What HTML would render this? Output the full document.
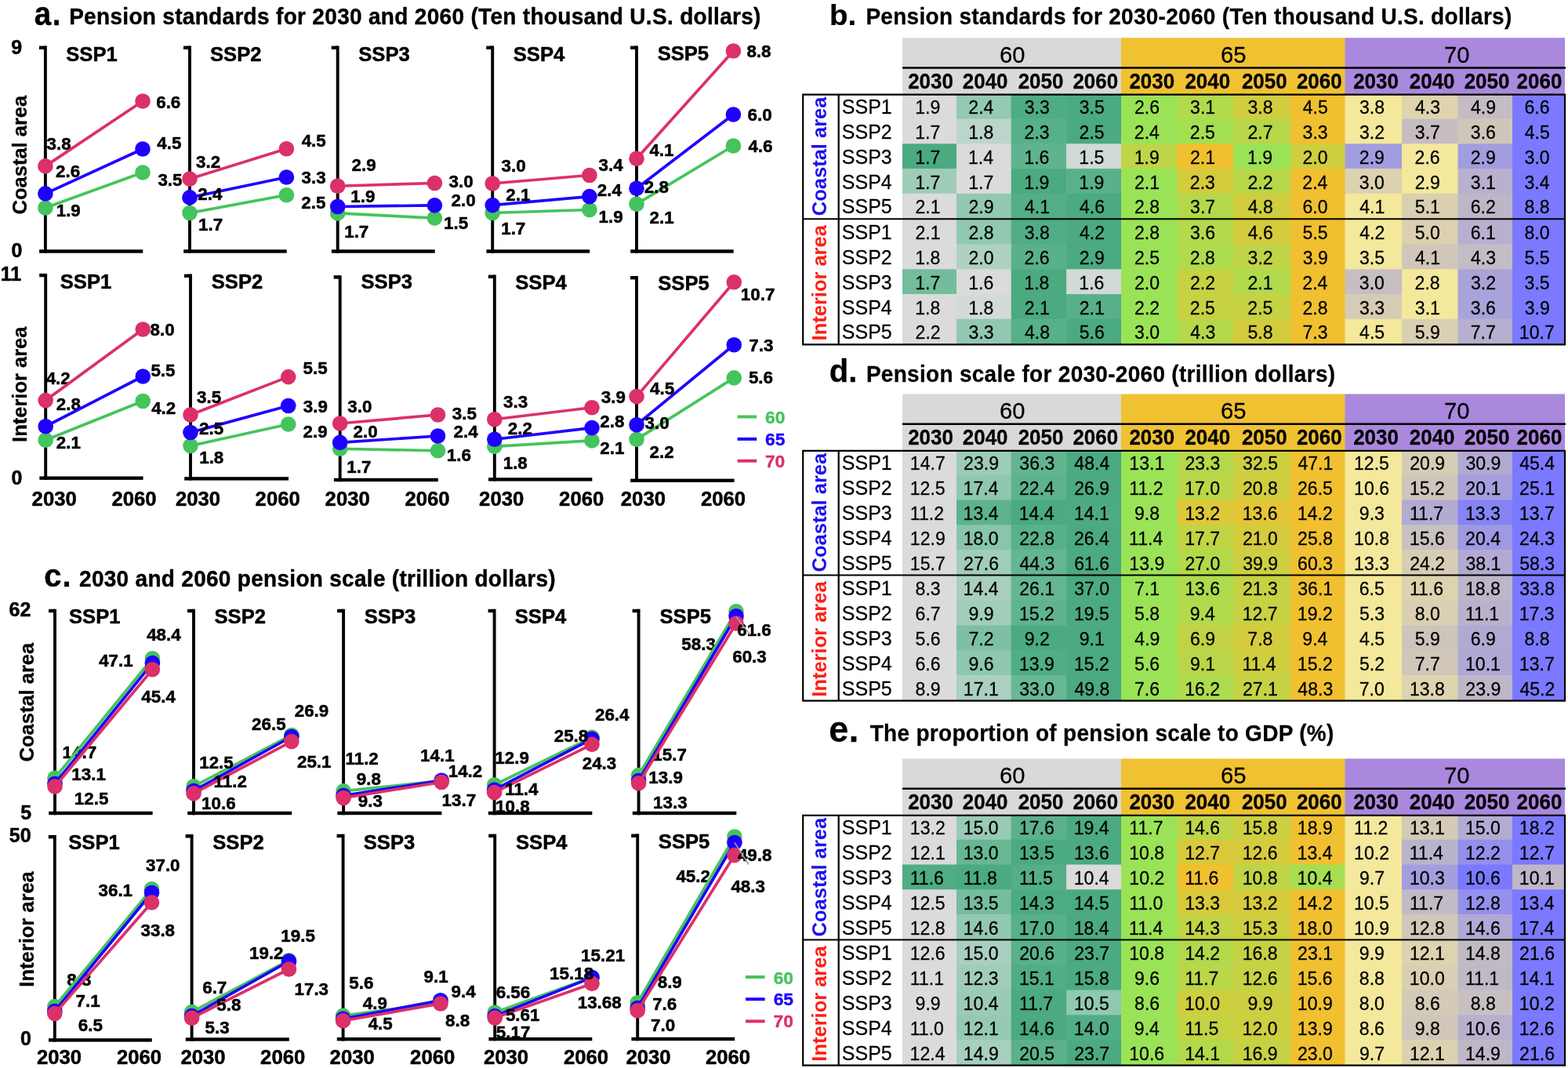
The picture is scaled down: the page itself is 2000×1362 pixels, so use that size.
<!DOCTYPE html>
<html lang="en"><head><meta charset="utf-8"><title>Pension standards and pension scale 2030-2060</title>
<style>html,body{margin:0;padding:0;background:#fff}body{width:2000px;height:1362px;overflow:hidden}svg{display:block}text{font-family:"Liberation Sans", sans-serif}.b{font-weight:bold}.c text{stroke:#000;stroke-width:.5px}.h text{stroke:#000;stroke-width:.4px}.t text{stroke:#000;stroke-width:.25px}.t text[fill]{stroke:none}</style>
</head><body>
<svg xmlns="http://www.w3.org/2000/svg" width="2000" height="1362" viewBox="0 0 2000 1362">
<rect width="2000" height="1362" fill="#fff"/>
<g id="table-b" class="t">
<rect x="1151.00" y="48.25" width="279.50" height="72.45" fill="#d9d9d9"/>
<rect x="1430.00" y="48.25" width="286.00" height="72.45" fill="#f0c232"/>
<rect x="1715.50" y="48.25" width="280.50" height="72.45" fill="#a988de"/>
<rect x="1151.00" y="120.70" width="69.60" height="31.40" fill="#dbdbdb"/>
<rect x="1220.00" y="120.70" width="70.30" height="31.40" fill="#94c9b2"/>
<rect x="1289.70" y="120.70" width="71.10" height="31.40" fill="#4eac82"/>
<rect x="1360.20" y="120.70" width="70.40" height="31.40" fill="#4baa80"/>
<rect x="1430.00" y="120.70" width="72.30" height="31.40" fill="#9be356"/>
<rect x="1501.70" y="120.70" width="71.90" height="31.40" fill="#b1da4c"/>
<rect x="1573.00" y="120.70" width="73.80" height="31.40" fill="#d1cd3e"/>
<rect x="1646.20" y="120.70" width="69.90" height="31.40" fill="#f0c030"/>
<rect x="1715.50" y="120.70" width="73.10" height="31.40" fill="#f4e89c"/>
<rect x="1788.00" y="120.70" width="72.10" height="31.40" fill="#ded4ae"/>
<rect x="1859.50" y="120.70" width="70.10" height="31.40" fill="#c4bcc3"/>
<rect x="1929.00" y="120.70" width="67.00" height="31.40" fill="#7b79ff"/>
<rect x="1151.00" y="151.50" width="69.60" height="32.40" fill="#dbdbdb"/>
<rect x="1220.00" y="151.50" width="70.30" height="32.40" fill="#bcd5cb"/>
<rect x="1289.70" y="151.50" width="71.10" height="32.40" fill="#57b089"/>
<rect x="1360.20" y="151.50" width="70.40" height="32.40" fill="#4baa80"/>
<rect x="1430.00" y="151.50" width="72.30" height="32.40" fill="#9be356"/>
<rect x="1501.70" y="151.50" width="71.90" height="32.40" fill="#a4df52"/>
<rect x="1573.00" y="151.50" width="73.80" height="32.40" fill="#b7d749"/>
<rect x="1646.20" y="151.50" width="69.90" height="32.40" fill="#f0c030"/>
<rect x="1715.50" y="151.50" width="73.10" height="32.40" fill="#f4e89c"/>
<rect x="1788.00" y="151.50" width="72.10" height="32.40" fill="#c5bdc2"/>
<rect x="1859.50" y="151.50" width="70.10" height="32.40" fill="#cfc6ba"/>
<rect x="1929.00" y="151.50" width="67.00" height="32.40" fill="#7b79ff"/>
<rect x="1151.00" y="183.30" width="69.60" height="32.40" fill="#4baa80"/>
<rect x="1220.00" y="183.30" width="70.30" height="32.40" fill="#dbdbdb"/>
<rect x="1289.70" y="183.30" width="71.10" height="32.40" fill="#5fb48f"/>
<rect x="1360.20" y="183.30" width="70.40" height="32.40" fill="#d1dad6"/>
<rect x="1430.00" y="183.30" width="72.30" height="32.40" fill="#bdd547"/>
<rect x="1501.70" y="183.30" width="71.90" height="32.40" fill="#f0c030"/>
<rect x="1573.00" y="183.30" width="73.80" height="32.40" fill="#9be356"/>
<rect x="1646.20" y="183.30" width="69.90" height="32.40" fill="#cece3f"/>
<rect x="1715.50" y="183.30" width="73.10" height="32.40" fill="#a29ddf"/>
<rect x="1788.00" y="183.30" width="72.10" height="32.40" fill="#f4e89c"/>
<rect x="1859.50" y="183.30" width="70.10" height="32.40" fill="#a29ddf"/>
<rect x="1929.00" y="183.30" width="67.00" height="32.40" fill="#7b79ff"/>
<rect x="1151.00" y="215.10" width="69.60" height="32.30" fill="#9fccb9"/>
<rect x="1220.00" y="215.10" width="70.30" height="32.30" fill="#dbdbdb"/>
<rect x="1289.70" y="215.10" width="71.10" height="32.30" fill="#4baa80"/>
<rect x="1360.20" y="215.10" width="70.40" height="32.30" fill="#59b18a"/>
<rect x="1430.00" y="215.10" width="72.30" height="32.30" fill="#9be356"/>
<rect x="1501.70" y="215.10" width="71.90" height="32.30" fill="#d4cc3d"/>
<rect x="1573.00" y="215.10" width="73.80" height="32.30" fill="#b7d749"/>
<rect x="1646.20" y="215.10" width="69.90" height="32.30" fill="#f0c030"/>
<rect x="1715.50" y="215.10" width="73.10" height="32.30" fill="#dcd2b0"/>
<rect x="1788.00" y="215.10" width="72.10" height="32.30" fill="#f4e89c"/>
<rect x="1859.50" y="215.10" width="70.10" height="32.30" fill="#b8b0ce"/>
<rect x="1929.00" y="215.10" width="67.00" height="32.30" fill="#7b79ff"/>
<rect x="1151.00" y="246.80" width="69.60" height="33.05" fill="#dbdbdb"/>
<rect x="1220.00" y="246.80" width="70.30" height="33.05" fill="#93c8b1"/>
<rect x="1289.70" y="246.80" width="71.10" height="33.05" fill="#53ae86"/>
<rect x="1360.20" y="246.80" width="70.40" height="33.05" fill="#4baa80"/>
<rect x="1430.00" y="246.80" width="72.30" height="33.05" fill="#9be356"/>
<rect x="1501.70" y="246.80" width="71.90" height="33.05" fill="#b3d94b"/>
<rect x="1573.00" y="246.80" width="73.80" height="33.05" fill="#d0cd3e"/>
<rect x="1646.20" y="246.80" width="69.90" height="33.05" fill="#f0c030"/>
<rect x="1715.50" y="246.80" width="73.10" height="33.05" fill="#f4e89c"/>
<rect x="1788.00" y="246.80" width="72.10" height="33.05" fill="#dad0b1"/>
<rect x="1859.50" y="246.80" width="70.10" height="33.05" fill="#beb6c8"/>
<rect x="1929.00" y="246.80" width="67.00" height="33.05" fill="#7b79ff"/>
<rect x="1151.00" y="279.25" width="69.60" height="32.85" fill="#dbdbdb"/>
<rect x="1220.00" y="279.25" width="70.30" height="32.85" fill="#90c8b0"/>
<rect x="1289.70" y="279.25" width="71.10" height="32.85" fill="#52ad86"/>
<rect x="1360.20" y="279.25" width="70.40" height="32.85" fill="#4baa80"/>
<rect x="1430.00" y="279.25" width="72.30" height="32.85" fill="#9be356"/>
<rect x="1501.70" y="279.25" width="71.90" height="32.85" fill="#b4d94b"/>
<rect x="1573.00" y="279.25" width="73.80" height="32.85" fill="#d4cc3d"/>
<rect x="1646.20" y="279.25" width="69.90" height="32.85" fill="#f0c030"/>
<rect x="1715.50" y="279.25" width="73.10" height="32.85" fill="#f4e89c"/>
<rect x="1788.00" y="279.25" width="72.10" height="32.85" fill="#dbd1b1"/>
<rect x="1859.50" y="279.25" width="70.10" height="32.85" fill="#b8b0ce"/>
<rect x="1929.00" y="279.25" width="67.00" height="32.85" fill="#7b79ff"/>
<rect x="1151.00" y="311.50" width="69.60" height="32.40" fill="#dbdbdb"/>
<rect x="1220.00" y="311.50" width="70.30" height="32.40" fill="#afd1c2"/>
<rect x="1289.70" y="311.50" width="71.10" height="32.40" fill="#59b18a"/>
<rect x="1360.20" y="311.50" width="70.40" height="32.40" fill="#4baa80"/>
<rect x="1430.00" y="311.50" width="72.30" height="32.40" fill="#9be356"/>
<rect x="1501.70" y="311.50" width="71.90" height="32.40" fill="#addc4e"/>
<rect x="1573.00" y="311.50" width="73.80" height="32.40" fill="#bfd446"/>
<rect x="1646.20" y="311.50" width="69.90" height="32.40" fill="#f0c030"/>
<rect x="1715.50" y="311.50" width="73.10" height="32.40" fill="#f4e89c"/>
<rect x="1788.00" y="311.50" width="72.10" height="32.40" fill="#d0c7ba"/>
<rect x="1859.50" y="311.50" width="70.10" height="32.40" fill="#c4bcc4"/>
<rect x="1929.00" y="311.50" width="67.00" height="32.40" fill="#7b79ff"/>
<rect x="1151.00" y="343.30" width="69.60" height="32.40" fill="#73bd9c"/>
<rect x="1220.00" y="343.30" width="70.30" height="32.40" fill="#dbdbdb"/>
<rect x="1289.70" y="343.30" width="71.10" height="32.40" fill="#4baa80"/>
<rect x="1360.20" y="343.30" width="70.40" height="32.40" fill="#d1dad6"/>
<rect x="1430.00" y="343.30" width="72.30" height="32.40" fill="#9be356"/>
<rect x="1501.70" y="343.30" width="71.90" height="32.40" fill="#c6d143"/>
<rect x="1573.00" y="343.30" width="73.80" height="32.40" fill="#b0da4c"/>
<rect x="1646.20" y="343.30" width="69.90" height="32.40" fill="#f0c030"/>
<rect x="1715.50" y="343.30" width="73.10" height="32.40" fill="#c6bec2"/>
<rect x="1788.00" y="343.30" width="72.10" height="32.40" fill="#f4e89c"/>
<rect x="1859.50" y="343.30" width="70.10" height="32.40" fill="#a9a3d9"/>
<rect x="1929.00" y="343.30" width="67.00" height="32.40" fill="#7b79ff"/>
<rect x="1151.00" y="375.10" width="69.60" height="32.30" fill="#dbdbdb"/>
<rect x="1220.00" y="375.10" width="70.30" height="32.30" fill="#d4dad7"/>
<rect x="1289.70" y="375.10" width="71.10" height="32.30" fill="#4baa80"/>
<rect x="1360.20" y="375.10" width="70.40" height="32.30" fill="#57b088"/>
<rect x="1430.00" y="375.10" width="72.30" height="32.30" fill="#9be356"/>
<rect x="1501.70" y="375.10" width="71.90" height="32.30" fill="#c6d243"/>
<rect x="1573.00" y="375.10" width="73.80" height="32.30" fill="#c6d243"/>
<rect x="1646.20" y="375.10" width="69.90" height="32.30" fill="#f0c030"/>
<rect x="1715.50" y="375.10" width="73.10" height="32.30" fill="#d6ccb5"/>
<rect x="1788.00" y="375.10" width="72.10" height="32.30" fill="#f4e89c"/>
<rect x="1859.50" y="375.10" width="70.10" height="32.30" fill="#a8a3da"/>
<rect x="1929.00" y="375.10" width="67.00" height="32.30" fill="#7b79ff"/>
<rect x="1151.00" y="406.80" width="69.60" height="32.65" fill="#dbdbdb"/>
<rect x="1220.00" y="406.80" width="70.30" height="32.65" fill="#92c8b1"/>
<rect x="1289.70" y="406.80" width="71.10" height="32.65" fill="#56b088"/>
<rect x="1360.20" y="406.80" width="70.40" height="32.65" fill="#4baa80"/>
<rect x="1430.00" y="406.80" width="72.30" height="32.65" fill="#9be356"/>
<rect x="1501.70" y="406.80" width="71.90" height="32.65" fill="#b5d84b"/>
<rect x="1573.00" y="406.80" width="73.80" height="32.65" fill="#d2cc3d"/>
<rect x="1646.20" y="406.80" width="69.90" height="32.65" fill="#f0c030"/>
<rect x="1715.50" y="406.80" width="73.10" height="32.65" fill="#f4e89c"/>
<rect x="1788.00" y="406.80" width="72.10" height="32.65" fill="#d9cfb2"/>
<rect x="1859.50" y="406.80" width="70.10" height="32.65" fill="#b6afcf"/>
<rect x="1929.00" y="406.80" width="67.00" height="32.65" fill="#7b79ff"/>
<line x1="1151.00" y1="86.55" x2="1997.00" y2="86.55" stroke="#000" stroke-width="2.4"/>
<text transform="translate(1275.09 79.75) scale(1 1.01)" font-size="29.2">60</text>
<text transform="translate(1557.03 79.75) scale(1 1.01)" font-size="29.2">65</text>
<text transform="translate(1842.08 79.75) scale(1 1.01)" font-size="29.2">70</text>
<text transform="translate(1158.16 112.9) scale(1 1.04)" font-size="26" class="b">2030</text>
<text transform="translate(1227.76 112.9) scale(1 1.04)" font-size="26" class="b">2040</text>
<text transform="translate(1298.66 112.9) scale(1 1.04)" font-size="26" class="b">2050</text>
<text transform="translate(1368.41 112.9) scale(1 1.04)" font-size="26" class="b">2060</text>
<text transform="translate(1440.41 112.9) scale(1 1.04)" font-size="26" class="b">2030</text>
<text transform="translate(1511.41 112.9) scale(1 1.04)" font-size="26" class="b">2040</text>
<text transform="translate(1583.91 112.9) scale(1 1.04)" font-size="26" class="b">2050</text>
<text transform="translate(1653.91 112.9) scale(1 1.04)" font-size="26" class="b">2060</text>
<text transform="translate(1726.16 112.9) scale(1 1.04)" font-size="26" class="b">2030</text>
<text transform="translate(1797.76 112.9) scale(1 1.04)" font-size="26" class="b">2040</text>
<text transform="translate(1867.66 112.9) scale(1 1.04)" font-size="26" class="b">2050</text>
<text transform="translate(1934.56 112.9) scale(1 1.04)" font-size="26" class="b">2060</text>
<text transform="translate(1073.86 145.2) scale(1 1.04)" font-size="25">SSP1</text>
<text transform="translate(1167.21 145.2) scale(1 1.04)" font-size="23.1">1.9</text>
<text transform="translate(1235.3 145.2) scale(1 1.04)" font-size="23.1">2.4</text>
<text transform="translate(1306.76 145.2) scale(1 1.04)" font-size="23.1">3.3</text>
<text transform="translate(1376.74 145.2) scale(1 1.04)" font-size="23.1">3.5</text>
<text transform="translate(1446.97 145.2) scale(1 1.04)" font-size="23.1">2.6</text>
<text transform="translate(1518.07 145.2) scale(1 1.04)" font-size="23.1">3.1</text>
<text transform="translate(1591.51 145.2) scale(1 1.04)" font-size="23.1">3.8</text>
<text transform="translate(1661.76 145.2) scale(1 1.04)" font-size="23.1">4.5</text>
<text transform="translate(1733.91 145.2) scale(1 1.04)" font-size="23.1">3.8</text>
<text transform="translate(1804.94 145.2) scale(1 1.04)" font-size="23.1">4.3</text>
<text transform="translate(1876.03 145.2) scale(1 1.04)" font-size="23.1">4.9</text>
<text transform="translate(1944.46 145.2) scale(1 1.04)" font-size="23.1">6.6</text>
<text transform="translate(1073.86 177) scale(1 1.04)" font-size="25">SSP2</text>
<text transform="translate(1167.25 177) scale(1 1.04)" font-size="23.1">1.7</text>
<text transform="translate(1235.17 177) scale(1 1.04)" font-size="23.1">1.8</text>
<text transform="translate(1306.62 177) scale(1 1.04)" font-size="23.1">2.3</text>
<text transform="translate(1376.6 177) scale(1 1.04)" font-size="23.1">2.5</text>
<text transform="translate(1446.8 177) scale(1 1.04)" font-size="23.1">2.4</text>
<text transform="translate(1517.85 177) scale(1 1.04)" font-size="23.1">2.5</text>
<text transform="translate(1591.44 177) scale(1 1.04)" font-size="23.1">2.7</text>
<text transform="translate(1661.61 177) scale(1 1.04)" font-size="23.1">3.3</text>
<text transform="translate(1733.98 177) scale(1 1.04)" font-size="23.1">3.2</text>
<text transform="translate(1804.83 177) scale(1 1.04)" font-size="23.1">3.7</text>
<text transform="translate(1875.81 177) scale(1 1.04)" font-size="23.1">3.6</text>
<text transform="translate(1944.76 177) scale(1 1.04)" font-size="23.1">4.5</text>
<text transform="translate(1073.86 208.8) scale(1 1.04)" font-size="25">SSP3</text>
<text transform="translate(1167.25 208.8) scale(1 1.04)" font-size="23.1">1.7</text>
<text transform="translate(1235 208.8) scale(1 1.04)" font-size="23.1">1.4</text>
<text transform="translate(1306.32 208.8) scale(1 1.04)" font-size="23.1">1.6</text>
<text transform="translate(1376.3 208.8) scale(1 1.04)" font-size="23.1">1.5</text>
<text transform="translate(1446.71 208.8) scale(1 1.04)" font-size="23.1">1.9</text>
<text transform="translate(1517.93 208.8) scale(1 1.04)" font-size="23.1">2.1</text>
<text transform="translate(1591.11 208.8) scale(1 1.04)" font-size="23.1">1.9</text>
<text transform="translate(1661.41 208.8) scale(1 1.04)" font-size="23.1">2.0</text>
<text transform="translate(1733.81 208.8) scale(1 1.04)" font-size="23.1">2.9</text>
<text transform="translate(1804.62 208.8) scale(1 1.04)" font-size="23.1">2.6</text>
<text transform="translate(1875.71 208.8) scale(1 1.04)" font-size="23.1">2.9</text>
<text transform="translate(1944.56 208.8) scale(1 1.04)" font-size="23.1">3.0</text>
<text transform="translate(1073.86 240.5) scale(1 1.04)" font-size="25">SSP4</text>
<text transform="translate(1167.25 240.5) scale(1 1.04)" font-size="23.1">1.7</text>
<text transform="translate(1235.25 240.5) scale(1 1.04)" font-size="23.1">1.7</text>
<text transform="translate(1306.36 240.5) scale(1 1.04)" font-size="23.1">1.9</text>
<text transform="translate(1376.36 240.5) scale(1 1.04)" font-size="23.1">1.9</text>
<text transform="translate(1447.03 240.5) scale(1 1.04)" font-size="23.1">2.1</text>
<text transform="translate(1517.87 240.5) scale(1 1.04)" font-size="23.1">2.3</text>
<text transform="translate(1591.44 240.5) scale(1 1.04)" font-size="23.1">2.2</text>
<text transform="translate(1661.3 240.5) scale(1 1.04)" font-size="23.1">2.4</text>
<text transform="translate(1733.86 240.5) scale(1 1.04)" font-size="23.1">3.0</text>
<text transform="translate(1804.66 240.5) scale(1 1.04)" font-size="23.1">2.9</text>
<text transform="translate(1875.87 240.5) scale(1 1.04)" font-size="23.1">3.1</text>
<text transform="translate(1944.44 240.5) scale(1 1.04)" font-size="23.1">3.4</text>
<text transform="translate(1073.86 272.3) scale(1 1.04)" font-size="25">SSP5</text>
<text transform="translate(1167.53 272.3) scale(1 1.04)" font-size="23.1">2.1</text>
<text transform="translate(1235.51 272.3) scale(1 1.04)" font-size="23.1">2.9</text>
<text transform="translate(1306.99 272.3) scale(1 1.04)" font-size="23.1">4.1</text>
<text transform="translate(1376.94 272.3) scale(1 1.04)" font-size="23.1">4.6</text>
<text transform="translate(1446.96 272.3) scale(1 1.04)" font-size="23.1">2.8</text>
<text transform="translate(1518.08 272.3) scale(1 1.04)" font-size="23.1">3.7</text>
<text transform="translate(1591.68 272.3) scale(1 1.04)" font-size="23.1">4.8</text>
<text transform="translate(1661.41 272.3) scale(1 1.04)" font-size="23.1">6.0</text>
<text transform="translate(1734.14 272.3) scale(1 1.04)" font-size="23.1">4.1</text>
<text transform="translate(1804.8 272.3) scale(1 1.04)" font-size="23.1">5.1</text>
<text transform="translate(1875.74 272.3) scale(1 1.04)" font-size="23.1">6.2</text>
<text transform="translate(1944.54 272.3) scale(1 1.04)" font-size="23.1">8.8</text>
<text transform="translate(1073.86 305.2) scale(1 1.04)" font-size="25">SSP1</text>
<text transform="translate(1167.53 305.2) scale(1 1.04)" font-size="23.1">2.1</text>
<text transform="translate(1235.46 305.2) scale(1 1.04)" font-size="23.1">2.8</text>
<text transform="translate(1306.76 305.2) scale(1 1.04)" font-size="23.1">3.8</text>
<text transform="translate(1377.01 305.2) scale(1 1.04)" font-size="23.1">4.2</text>
<text transform="translate(1446.96 305.2) scale(1 1.04)" font-size="23.1">2.8</text>
<text transform="translate(1518.01 305.2) scale(1 1.04)" font-size="23.1">3.6</text>
<text transform="translate(1591.69 305.2) scale(1 1.04)" font-size="23.1">4.6</text>
<text transform="translate(1661.57 305.2) scale(1 1.04)" font-size="23.1">5.5</text>
<text transform="translate(1734.16 305.2) scale(1 1.04)" font-size="23.1">4.2</text>
<text transform="translate(1804.68 305.2) scale(1 1.04)" font-size="23.1">5.0</text>
<text transform="translate(1875.72 305.2) scale(1 1.04)" font-size="23.1">6.1</text>
<text transform="translate(1944.49 305.2) scale(1 1.04)" font-size="23.1">8.0</text>
<text transform="translate(1073.86 337) scale(1 1.04)" font-size="25">SSP2</text>
<text transform="translate(1167.17 337) scale(1 1.04)" font-size="23.1">1.8</text>
<text transform="translate(1235.41 337) scale(1 1.04)" font-size="23.1">2.0</text>
<text transform="translate(1306.62 337) scale(1 1.04)" font-size="23.1">2.6</text>
<text transform="translate(1376.66 337) scale(1 1.04)" font-size="23.1">2.9</text>
<text transform="translate(1446.95 337) scale(1 1.04)" font-size="23.1">2.5</text>
<text transform="translate(1517.86 337) scale(1 1.04)" font-size="23.1">2.8</text>
<text transform="translate(1591.58 337) scale(1 1.04)" font-size="23.1">3.2</text>
<text transform="translate(1661.65 337) scale(1 1.04)" font-size="23.1">3.9</text>
<text transform="translate(1733.89 337) scale(1 1.04)" font-size="23.1">3.5</text>
<text transform="translate(1804.99 337) scale(1 1.04)" font-size="23.1">4.1</text>
<text transform="translate(1875.99 337) scale(1 1.04)" font-size="23.1">4.3</text>
<text transform="translate(1944.57 337) scale(1 1.04)" font-size="23.1">5.5</text>
<text transform="translate(1073.86 368.8) scale(1 1.04)" font-size="25">SSP3</text>
<text transform="translate(1167.25 368.8) scale(1 1.04)" font-size="23.1">1.7</text>
<text transform="translate(1235.17 368.8) scale(1 1.04)" font-size="23.1">1.6</text>
<text transform="translate(1306.32 368.8) scale(1 1.04)" font-size="23.1">1.8</text>
<text transform="translate(1376.32 368.8) scale(1 1.04)" font-size="23.1">1.6</text>
<text transform="translate(1446.91 368.8) scale(1 1.04)" font-size="23.1">2.0</text>
<text transform="translate(1517.94 368.8) scale(1 1.04)" font-size="23.1">2.2</text>
<text transform="translate(1591.43 368.8) scale(1 1.04)" font-size="23.1">2.1</text>
<text transform="translate(1661.3 368.8) scale(1 1.04)" font-size="23.1">2.4</text>
<text transform="translate(1733.86 368.8) scale(1 1.04)" font-size="23.1">3.0</text>
<text transform="translate(1804.61 368.8) scale(1 1.04)" font-size="23.1">2.8</text>
<text transform="translate(1875.88 368.8) scale(1 1.04)" font-size="23.1">3.2</text>
<text transform="translate(1944.59 368.8) scale(1 1.04)" font-size="23.1">3.5</text>
<text transform="translate(1073.86 400.5) scale(1 1.04)" font-size="25">SSP4</text>
<text transform="translate(1167.17 400.5) scale(1 1.04)" font-size="23.1">1.8</text>
<text transform="translate(1235.17 400.5) scale(1 1.04)" font-size="23.1">1.8</text>
<text transform="translate(1306.68 400.5) scale(1 1.04)" font-size="23.1">2.1</text>
<text transform="translate(1376.68 400.5) scale(1 1.04)" font-size="23.1">2.1</text>
<text transform="translate(1447.04 400.5) scale(1 1.04)" font-size="23.1">2.2</text>
<text transform="translate(1517.85 400.5) scale(1 1.04)" font-size="23.1">2.5</text>
<text transform="translate(1591.35 400.5) scale(1 1.04)" font-size="23.1">2.5</text>
<text transform="translate(1661.46 400.5) scale(1 1.04)" font-size="23.1">2.8</text>
<text transform="translate(1733.91 400.5) scale(1 1.04)" font-size="23.1">3.3</text>
<text transform="translate(1804.82 400.5) scale(1 1.04)" font-size="23.1">3.1</text>
<text transform="translate(1875.81 400.5) scale(1 1.04)" font-size="23.1">3.6</text>
<text transform="translate(1944.65 400.5) scale(1 1.04)" font-size="23.1">3.9</text>
<text transform="translate(1073.86 432.3) scale(1 1.04)" font-size="25">SSP5</text>
<text transform="translate(1167.54 432.3) scale(1 1.04)" font-size="23.1">2.2</text>
<text transform="translate(1235.61 432.3) scale(1 1.04)" font-size="23.1">3.3</text>
<text transform="translate(1306.93 432.3) scale(1 1.04)" font-size="23.1">4.8</text>
<text transform="translate(1376.74 432.3) scale(1 1.04)" font-size="23.1">5.6</text>
<text transform="translate(1447.06 432.3) scale(1 1.04)" font-size="23.1">3.0</text>
<text transform="translate(1518.19 432.3) scale(1 1.04)" font-size="23.1">4.3</text>
<text transform="translate(1591.48 432.3) scale(1 1.04)" font-size="23.1">5.8</text>
<text transform="translate(1661.46 432.3) scale(1 1.04)" font-size="23.1">7.3</text>
<text transform="translate(1734.06 432.3) scale(1 1.04)" font-size="23.1">4.5</text>
<text transform="translate(1804.78 432.3) scale(1 1.04)" font-size="23.1">5.9</text>
<text transform="translate(1875.73 432.3) scale(1 1.04)" font-size="23.1">7.7</text>
<text transform="translate(1937.82 432.3) scale(1 1.04)" font-size="23.1">10.7</text>
<path d="M1024.2 120.7 H1996 V439.45 H1024.2 Z M1024.2 279.25 H1996 M1069.7 120.7 V439.45" fill="none" stroke="#000" stroke-width="2.2"/>
<text transform="translate(1054.4 275.14) rotate(-90) scale(1 1.04)" font-size="25.5" class="b" fill="#1a10f0">Coastal area</text>
<text transform="translate(1054.4 434.43) rotate(-90) scale(1 1.04)" font-size="25.5" class="b" fill="#ff1d14">Interior area</text>
<text transform="translate(1057.96 31.5) scale(1 0.98)" font-size="38.5" class="b">b.</text>
<text transform="translate(1104.38 30.9) scale(1 1.04)" font-size="28" class="b" letter-spacing="0.3">Pension standards for 2030-2060 (Ten thousand U.S. dollars)</text>
</g>
<g id="table-d" class="t">
<rect x="1151.00" y="502.50" width="279.50" height="72.45" fill="#d9d9d9"/>
<rect x="1430.00" y="502.50" width="286.00" height="72.45" fill="#f0c232"/>
<rect x="1715.50" y="502.50" width="280.50" height="72.45" fill="#a988de"/>
<rect x="1151.00" y="574.95" width="69.60" height="31.40" fill="#dbdbdb"/>
<rect x="1220.00" y="574.95" width="70.30" height="31.40" fill="#9cccb7"/>
<rect x="1289.70" y="574.95" width="71.10" height="31.40" fill="#62b590"/>
<rect x="1360.20" y="574.95" width="70.40" height="31.40" fill="#4baa80"/>
<rect x="1430.00" y="574.95" width="72.30" height="31.40" fill="#9be356"/>
<rect x="1501.70" y="574.95" width="71.90" height="31.40" fill="#b4d84b"/>
<rect x="1573.00" y="574.95" width="73.80" height="31.40" fill="#cccf40"/>
<rect x="1646.20" y="574.95" width="69.90" height="31.40" fill="#f0c030"/>
<rect x="1715.50" y="574.95" width="73.10" height="31.40" fill="#f4e89c"/>
<rect x="1788.00" y="574.95" width="72.10" height="31.40" fill="#d5ccb5"/>
<rect x="1859.50" y="574.95" width="70.10" height="31.40" fill="#b0aad3"/>
<rect x="1929.00" y="574.95" width="67.00" height="31.40" fill="#7b79ff"/>
<rect x="1151.00" y="605.75" width="69.60" height="32.40" fill="#dbdbdb"/>
<rect x="1220.00" y="605.75" width="70.30" height="32.40" fill="#8fc7af"/>
<rect x="1289.70" y="605.75" width="71.10" height="32.40" fill="#5db38d"/>
<rect x="1360.20" y="605.75" width="70.40" height="32.40" fill="#4baa80"/>
<rect x="1430.00" y="605.75" width="72.30" height="32.40" fill="#9be356"/>
<rect x="1501.70" y="605.75" width="71.90" height="32.40" fill="#bbd648"/>
<rect x="1573.00" y="605.75" width="73.80" height="32.40" fill="#d0cd3e"/>
<rect x="1646.20" y="605.75" width="69.90" height="32.40" fill="#f0c030"/>
<rect x="1715.50" y="605.75" width="73.10" height="32.40" fill="#f4e89c"/>
<rect x="1788.00" y="605.75" width="72.10" height="32.40" fill="#cec5bb"/>
<rect x="1859.50" y="605.75" width="70.10" height="32.40" fill="#a59fdd"/>
<rect x="1929.00" y="605.75" width="67.00" height="32.40" fill="#7b79ff"/>
<rect x="1151.00" y="637.55" width="69.60" height="32.40" fill="#dbdbdb"/>
<rect x="1220.00" y="637.55" width="70.30" height="32.40" fill="#5db38d"/>
<rect x="1289.70" y="637.55" width="71.10" height="32.40" fill="#4baa80"/>
<rect x="1360.20" y="637.55" width="70.40" height="32.40" fill="#4dab81"/>
<rect x="1430.00" y="637.55" width="72.30" height="32.40" fill="#9be356"/>
<rect x="1501.70" y="637.55" width="71.90" height="32.40" fill="#ddc839"/>
<rect x="1573.00" y="637.55" width="73.80" height="32.40" fill="#e4c535"/>
<rect x="1646.20" y="637.55" width="69.90" height="32.40" fill="#f0c030"/>
<rect x="1715.50" y="637.55" width="73.10" height="32.40" fill="#f4e89c"/>
<rect x="1788.00" y="637.55" width="72.10" height="32.40" fill="#b2abd2"/>
<rect x="1859.50" y="637.55" width="70.10" height="32.40" fill="#8683f6"/>
<rect x="1929.00" y="637.55" width="67.00" height="32.40" fill="#7b79ff"/>
<rect x="1151.00" y="669.35" width="69.60" height="32.30" fill="#dbdbdb"/>
<rect x="1220.00" y="669.35" width="70.30" height="32.30" fill="#88c5ab"/>
<rect x="1289.70" y="669.35" width="71.10" height="32.30" fill="#58b189"/>
<rect x="1360.20" y="669.35" width="70.40" height="32.30" fill="#4baa80"/>
<rect x="1430.00" y="669.35" width="72.30" height="32.30" fill="#9be356"/>
<rect x="1501.70" y="669.35" width="71.90" height="32.30" fill="#c0d445"/>
<rect x="1573.00" y="669.35" width="73.80" height="32.30" fill="#d4cc3d"/>
<rect x="1646.20" y="669.35" width="69.90" height="32.30" fill="#f0c030"/>
<rect x="1715.50" y="669.35" width="73.10" height="32.30" fill="#f4e89c"/>
<rect x="1788.00" y="669.35" width="72.10" height="32.30" fill="#c9c1bf"/>
<rect x="1859.50" y="669.35" width="70.10" height="32.30" fill="#9e99e2"/>
<rect x="1929.00" y="669.35" width="67.00" height="32.30" fill="#7b79ff"/>
<rect x="1151.00" y="701.05" width="69.60" height="33.05" fill="#dbdbdb"/>
<rect x="1220.00" y="701.05" width="70.30" height="33.05" fill="#9fcdb9"/>
<rect x="1289.70" y="701.05" width="71.10" height="33.05" fill="#64b592"/>
<rect x="1360.20" y="701.05" width="70.40" height="33.05" fill="#4baa80"/>
<rect x="1430.00" y="701.05" width="72.30" height="33.05" fill="#9be356"/>
<rect x="1501.70" y="701.05" width="71.90" height="33.05" fill="#b3d94b"/>
<rect x="1573.00" y="701.05" width="73.80" height="33.05" fill="#cbcf41"/>
<rect x="1646.20" y="701.05" width="69.90" height="33.05" fill="#f0c030"/>
<rect x="1715.50" y="701.05" width="73.10" height="33.05" fill="#f4e89c"/>
<rect x="1788.00" y="701.05" width="72.10" height="33.05" fill="#d7cdb4"/>
<rect x="1859.50" y="701.05" width="70.10" height="33.05" fill="#b1abd3"/>
<rect x="1929.00" y="701.05" width="67.00" height="33.05" fill="#7b79ff"/>
<rect x="1151.00" y="733.50" width="69.60" height="32.85" fill="#dbdbdb"/>
<rect x="1220.00" y="733.50" width="70.30" height="32.85" fill="#a9cfbf"/>
<rect x="1289.70" y="733.50" width="71.10" height="32.85" fill="#64b692"/>
<rect x="1360.20" y="733.50" width="70.40" height="32.85" fill="#4baa80"/>
<rect x="1430.00" y="733.50" width="72.30" height="32.85" fill="#9be356"/>
<rect x="1501.70" y="733.50" width="71.90" height="32.85" fill="#aedb4d"/>
<rect x="1573.00" y="733.50" width="73.80" height="32.85" fill="#c5d243"/>
<rect x="1646.20" y="733.50" width="69.90" height="32.85" fill="#f0c030"/>
<rect x="1715.50" y="733.50" width="73.10" height="32.85" fill="#f4e89c"/>
<rect x="1788.00" y="733.50" width="72.10" height="32.85" fill="#ddd3ae"/>
<rect x="1859.50" y="733.50" width="70.10" height="32.85" fill="#bdb6c9"/>
<rect x="1929.00" y="733.50" width="67.00" height="32.85" fill="#7b79ff"/>
<rect x="1151.00" y="765.75" width="69.60" height="32.40" fill="#dbdbdb"/>
<rect x="1220.00" y="765.75" width="70.30" height="32.40" fill="#a1cdba"/>
<rect x="1289.70" y="765.75" width="71.10" height="32.40" fill="#5fb48f"/>
<rect x="1360.20" y="765.75" width="70.40" height="32.40" fill="#4baa80"/>
<rect x="1430.00" y="765.75" width="72.30" height="32.40" fill="#9be356"/>
<rect x="1501.70" y="765.75" width="71.90" height="32.40" fill="#b2da4c"/>
<rect x="1573.00" y="765.75" width="73.80" height="32.40" fill="#c7d142"/>
<rect x="1646.20" y="765.75" width="69.90" height="32.40" fill="#f0c030"/>
<rect x="1715.50" y="765.75" width="73.10" height="32.40" fill="#f4e89c"/>
<rect x="1788.00" y="765.75" width="72.10" height="32.40" fill="#d9cfb2"/>
<rect x="1859.50" y="765.75" width="70.10" height="32.40" fill="#bab2cc"/>
<rect x="1929.00" y="765.75" width="67.00" height="32.40" fill="#7b79ff"/>
<rect x="1151.00" y="797.55" width="69.60" height="32.40" fill="#dbdbdb"/>
<rect x="1220.00" y="797.55" width="70.30" height="32.40" fill="#7dc0a4"/>
<rect x="1289.70" y="797.55" width="71.10" height="32.40" fill="#4baa80"/>
<rect x="1360.20" y="797.55" width="70.40" height="32.40" fill="#4baa80"/>
<rect x="1430.00" y="797.55" width="72.30" height="32.40" fill="#9be356"/>
<rect x="1501.70" y="797.55" width="71.90" height="32.40" fill="#c1d345"/>
<rect x="1573.00" y="797.55" width="73.80" height="32.40" fill="#d2cc3e"/>
<rect x="1646.20" y="797.55" width="69.90" height="32.40" fill="#f0c030"/>
<rect x="1715.50" y="797.55" width="73.10" height="32.40" fill="#f4e89c"/>
<rect x="1788.00" y="797.55" width="72.10" height="32.40" fill="#cdc4bc"/>
<rect x="1859.50" y="797.55" width="70.10" height="32.40" fill="#b0aad3"/>
<rect x="1929.00" y="797.55" width="67.00" height="32.40" fill="#7b79ff"/>
<rect x="1151.00" y="829.35" width="69.60" height="32.30" fill="#dbdbdb"/>
<rect x="1220.00" y="829.35" width="70.30" height="32.30" fill="#8ec7ae"/>
<rect x="1289.70" y="829.35" width="71.10" height="32.30" fill="#50ad84"/>
<rect x="1360.20" y="829.35" width="70.40" height="32.30" fill="#4baa80"/>
<rect x="1430.00" y="829.35" width="72.30" height="32.30" fill="#9be356"/>
<rect x="1501.70" y="829.35" width="71.90" height="32.30" fill="#bad648"/>
<rect x="1573.00" y="829.35" width="73.80" height="32.30" fill="#cece3f"/>
<rect x="1646.20" y="829.35" width="69.90" height="32.30" fill="#f0c030"/>
<rect x="1715.50" y="829.35" width="73.10" height="32.30" fill="#f4e89c"/>
<rect x="1788.00" y="829.35" width="72.10" height="32.30" fill="#d0c7b9"/>
<rect x="1859.50" y="829.35" width="70.10" height="32.30" fill="#aea8d5"/>
<rect x="1929.00" y="829.35" width="67.00" height="32.30" fill="#7b79ff"/>
<rect x="1151.00" y="861.05" width="69.60" height="32.65" fill="#dbdbdb"/>
<rect x="1220.00" y="861.05" width="70.30" height="32.65" fill="#abd0c1"/>
<rect x="1289.70" y="861.05" width="71.10" height="32.65" fill="#68b895"/>
<rect x="1360.20" y="861.05" width="70.40" height="32.65" fill="#4baa80"/>
<rect x="1430.00" y="861.05" width="72.30" height="32.65" fill="#9be356"/>
<rect x="1501.70" y="861.05" width="71.90" height="32.65" fill="#addc4e"/>
<rect x="1573.00" y="861.05" width="73.80" height="32.65" fill="#c4d244"/>
<rect x="1646.20" y="861.05" width="69.90" height="32.65" fill="#f0c030"/>
<rect x="1715.50" y="861.05" width="73.10" height="32.65" fill="#f4e89c"/>
<rect x="1788.00" y="861.05" width="72.10" height="32.65" fill="#ded4ae"/>
<rect x="1859.50" y="861.05" width="70.10" height="32.65" fill="#beb7c8"/>
<rect x="1929.00" y="861.05" width="67.00" height="32.65" fill="#7b79ff"/>
<line x1="1151.00" y1="540.80" x2="1997.00" y2="540.80" stroke="#000" stroke-width="2.4"/>
<text transform="translate(1275.09 534) scale(1 1.01)" font-size="29.2">60</text>
<text transform="translate(1557.03 534) scale(1 1.01)" font-size="29.2">65</text>
<text transform="translate(1842.08 534) scale(1 1.01)" font-size="29.2">70</text>
<text transform="translate(1158.16 567.15) scale(1 1.04)" font-size="26" class="b">2030</text>
<text transform="translate(1227.76 567.15) scale(1 1.04)" font-size="26" class="b">2040</text>
<text transform="translate(1298.66 567.15) scale(1 1.04)" font-size="26" class="b">2050</text>
<text transform="translate(1368.41 567.15) scale(1 1.04)" font-size="26" class="b">2060</text>
<text transform="translate(1440.41 567.15) scale(1 1.04)" font-size="26" class="b">2030</text>
<text transform="translate(1511.41 567.15) scale(1 1.04)" font-size="26" class="b">2040</text>
<text transform="translate(1583.91 567.15) scale(1 1.04)" font-size="26" class="b">2050</text>
<text transform="translate(1653.91 567.15) scale(1 1.04)" font-size="26" class="b">2060</text>
<text transform="translate(1726.16 567.15) scale(1 1.04)" font-size="26" class="b">2030</text>
<text transform="translate(1797.76 567.15) scale(1 1.04)" font-size="26" class="b">2040</text>
<text transform="translate(1867.66 567.15) scale(1 1.04)" font-size="26" class="b">2050</text>
<text transform="translate(1934.56 567.15) scale(1 1.04)" font-size="26" class="b">2060</text>
<text transform="translate(1073.86 599.45) scale(1 1.04)" font-size="25">SSP1</text>
<text transform="translate(1160.82 599.45) scale(1 1.04)" font-size="23.1">14.7</text>
<text transform="translate(1229.09 599.45) scale(1 1.04)" font-size="23.1">23.9</text>
<text transform="translate(1300.34 599.45) scale(1 1.04)" font-size="23.1">36.3</text>
<text transform="translate(1370.34 599.45) scale(1 1.04)" font-size="23.1">48.4</text>
<text transform="translate(1440.3 599.45) scale(1 1.04)" font-size="23.1">13.1</text>
<text transform="translate(1511.45 599.45) scale(1 1.04)" font-size="23.1">23.3</text>
<text transform="translate(1585.07 599.45) scale(1 1.04)" font-size="23.1">32.5</text>
<text transform="translate(1655.42 599.45) scale(1 1.04)" font-size="23.1">47.1</text>
<text transform="translate(1727.03 599.45) scale(1 1.04)" font-size="23.1">12.5</text>
<text transform="translate(1798.24 599.45) scale(1 1.04)" font-size="23.1">20.9</text>
<text transform="translate(1869.43 599.45) scale(1 1.04)" font-size="23.1">30.9</text>
<text transform="translate(1938.19 599.45) scale(1 1.04)" font-size="23.1">45.4</text>
<text transform="translate(1073.86 631.25) scale(1 1.04)" font-size="25">SSP2</text>
<text transform="translate(1160.73 631.25) scale(1 1.04)" font-size="23.1">12.5</text>
<text transform="translate(1228.58 631.25) scale(1 1.04)" font-size="23.1">17.4</text>
<text transform="translate(1300.03 631.25) scale(1 1.04)" font-size="23.1">22.4</text>
<text transform="translate(1370.24 631.25) scale(1 1.04)" font-size="23.1">26.9</text>
<text transform="translate(1440.32 631.25) scale(1 1.04)" font-size="23.1">11.2</text>
<text transform="translate(1511.09 631.25) scale(1 1.04)" font-size="23.1">17.0</text>
<text transform="translate(1584.94 631.25) scale(1 1.04)" font-size="23.1">20.8</text>
<text transform="translate(1655.02 631.25) scale(1 1.04)" font-size="23.1">26.5</text>
<text transform="translate(1727.05 631.25) scale(1 1.04)" font-size="23.1">10.6</text>
<text transform="translate(1797.97 631.25) scale(1 1.04)" font-size="23.1">15.2</text>
<text transform="translate(1869.3 631.25) scale(1 1.04)" font-size="23.1">20.1</text>
<text transform="translate(1938.1 631.25) scale(1 1.04)" font-size="23.1">25.1</text>
<text transform="translate(1073.86 663.05) scale(1 1.04)" font-size="25">SSP3</text>
<text transform="translate(1160.82 663.05) scale(1 1.04)" font-size="23.1">11.2</text>
<text transform="translate(1228.58 663.05) scale(1 1.04)" font-size="23.1">13.4</text>
<text transform="translate(1299.73 663.05) scale(1 1.04)" font-size="23.1">14.4</text>
<text transform="translate(1369.95 663.05) scale(1 1.04)" font-size="23.1">14.1</text>
<text transform="translate(1447 663.05) scale(1 1.04)" font-size="23.1">9.8</text>
<text transform="translate(1511.22 663.05) scale(1 1.04)" font-size="23.1">13.2</text>
<text transform="translate(1584.65 663.05) scale(1 1.04)" font-size="23.1">13.6</text>
<text transform="translate(1654.82 663.05) scale(1 1.04)" font-size="23.1">14.2</text>
<text transform="translate(1733.81 663.05) scale(1 1.04)" font-size="23.1">9.3</text>
<text transform="translate(1797.97 663.05) scale(1 1.04)" font-size="23.1">11.7</text>
<text transform="translate(1868.95 663.05) scale(1 1.04)" font-size="23.1">13.3</text>
<text transform="translate(1937.82 663.05) scale(1 1.04)" font-size="23.1">13.7</text>
<text transform="translate(1073.86 694.75) scale(1 1.04)" font-size="25">SSP4</text>
<text transform="translate(1160.79 694.75) scale(1 1.04)" font-size="23.1">12.9</text>
<text transform="translate(1228.69 694.75) scale(1 1.04)" font-size="23.1">18.0</text>
<text transform="translate(1300.19 694.75) scale(1 1.04)" font-size="23.1">22.8</text>
<text transform="translate(1370.03 694.75) scale(1 1.04)" font-size="23.1">26.4</text>
<text transform="translate(1440.08 694.75) scale(1 1.04)" font-size="23.1">11.4</text>
<text transform="translate(1511.22 694.75) scale(1 1.04)" font-size="23.1">17.7</text>
<text transform="translate(1584.89 694.75) scale(1 1.04)" font-size="23.1">21.0</text>
<text transform="translate(1655.04 694.75) scale(1 1.04)" font-size="23.1">25.8</text>
<text transform="translate(1727.04 694.75) scale(1 1.04)" font-size="23.1">10.8</text>
<text transform="translate(1797.9 694.75) scale(1 1.04)" font-size="23.1">15.6</text>
<text transform="translate(1869.08 694.75) scale(1 1.04)" font-size="23.1">20.4</text>
<text transform="translate(1938.05 694.75) scale(1 1.04)" font-size="23.1">24.3</text>
<text transform="translate(1073.86 726.55) scale(1 1.04)" font-size="25">SSP5</text>
<text transform="translate(1160.82 726.55) scale(1 1.04)" font-size="23.1">15.7</text>
<text transform="translate(1229.05 726.55) scale(1 1.04)" font-size="23.1">27.6</text>
<text transform="translate(1300.51 726.55) scale(1 1.04)" font-size="23.1">44.3</text>
<text transform="translate(1370.19 726.55) scale(1 1.04)" font-size="23.1">61.6</text>
<text transform="translate(1440.29 726.55) scale(1 1.04)" font-size="23.1">13.9</text>
<text transform="translate(1511.39 726.55) scale(1 1.04)" font-size="23.1">27.0</text>
<text transform="translate(1585.13 726.55) scale(1 1.04)" font-size="23.1">39.9</text>
<text transform="translate(1655.04 726.55) scale(1 1.04)" font-size="23.1">60.3</text>
<text transform="translate(1727.05 726.55) scale(1 1.04)" font-size="23.1">13.3</text>
<text transform="translate(1798.27 726.55) scale(1 1.04)" font-size="23.1">24.2</text>
<text transform="translate(1869.44 726.55) scale(1 1.04)" font-size="23.1">38.1</text>
<text transform="translate(1938.17 726.55) scale(1 1.04)" font-size="23.1">58.3</text>
<text transform="translate(1073.86 759.45) scale(1 1.04)" font-size="25">SSP1</text>
<text transform="translate(1167.55 759.45) scale(1 1.04)" font-size="23.1">8.3</text>
<text transform="translate(1228.58 759.45) scale(1 1.04)" font-size="23.1">14.4</text>
<text transform="translate(1300.25 759.45) scale(1 1.04)" font-size="23.1">26.1</text>
<text transform="translate(1370.28 759.45) scale(1 1.04)" font-size="23.1">37.0</text>
<text transform="translate(1447.02 759.45) scale(1 1.04)" font-size="23.1">7.1</text>
<text transform="translate(1511.15 759.45) scale(1 1.04)" font-size="23.1">13.6</text>
<text transform="translate(1584.95 759.45) scale(1 1.04)" font-size="23.1">21.3</text>
<text transform="translate(1655.24 759.45) scale(1 1.04)" font-size="23.1">36.1</text>
<text transform="translate(1733.74 759.45) scale(1 1.04)" font-size="23.1">6.5</text>
<text transform="translate(1797.9 759.45) scale(1 1.04)" font-size="23.1">11.6</text>
<text transform="translate(1868.94 759.45) scale(1 1.04)" font-size="23.1">18.8</text>
<text transform="translate(1938.18 759.45) scale(1 1.04)" font-size="23.1">33.8</text>
<text transform="translate(1073.86 791.25) scale(1 1.04)" font-size="25">SSP2</text>
<text transform="translate(1167.54 791.25) scale(1 1.04)" font-size="23.1">6.7</text>
<text transform="translate(1235.55 791.25) scale(1 1.04)" font-size="23.1">9.9</text>
<text transform="translate(1299.97 791.25) scale(1 1.04)" font-size="23.1">15.2</text>
<text transform="translate(1369.88 791.25) scale(1 1.04)" font-size="23.1">19.5</text>
<text transform="translate(1447.08 791.25) scale(1 1.04)" font-size="23.1">5.8</text>
<text transform="translate(1517.74 791.25) scale(1 1.04)" font-size="23.1">9.4</text>
<text transform="translate(1584.72 791.25) scale(1 1.04)" font-size="23.1">12.7</text>
<text transform="translate(1654.82 791.25) scale(1 1.04)" font-size="23.1">19.2</text>
<text transform="translate(1733.89 791.25) scale(1 1.04)" font-size="23.1">5.3</text>
<text transform="translate(1804.64 791.25) scale(1 1.04)" font-size="23.1">8.0</text>
<text transform="translate(1869 791.25) scale(1 1.04)" font-size="23.1">11.1</text>
<text transform="translate(1937.75 791.25) scale(1 1.04)" font-size="23.1">17.3</text>
<text transform="translate(1073.86 823.05) scale(1 1.04)" font-size="25">SSP3</text>
<text transform="translate(1167.59 823.05) scale(1 1.04)" font-size="23.1">5.6</text>
<text transform="translate(1235.53 823.05) scale(1 1.04)" font-size="23.1">7.2</text>
<text transform="translate(1306.73 823.05) scale(1 1.04)" font-size="23.1">9.2</text>
<text transform="translate(1376.72 823.05) scale(1 1.04)" font-size="23.1">9.1</text>
<text transform="translate(1447.33 823.05) scale(1 1.04)" font-size="23.1">4.9</text>
<text transform="translate(1517.9 823.05) scale(1 1.04)" font-size="23.1">6.9</text>
<text transform="translate(1591.35 823.05) scale(1 1.04)" font-size="23.1">7.8</text>
<text transform="translate(1661.34 823.05) scale(1 1.04)" font-size="23.1">9.4</text>
<text transform="translate(1734.06 823.05) scale(1 1.04)" font-size="23.1">4.5</text>
<text transform="translate(1804.78 823.05) scale(1 1.04)" font-size="23.1">5.9</text>
<text transform="translate(1875.7 823.05) scale(1 1.04)" font-size="23.1">6.9</text>
<text transform="translate(1944.54 823.05) scale(1 1.04)" font-size="23.1">8.8</text>
<text transform="translate(1073.86 854.75) scale(1 1.04)" font-size="25">SSP4</text>
<text transform="translate(1167.46 854.75) scale(1 1.04)" font-size="23.1">6.6</text>
<text transform="translate(1235.51 854.75) scale(1 1.04)" font-size="23.1">9.6</text>
<text transform="translate(1299.94 854.75) scale(1 1.04)" font-size="23.1">13.9</text>
<text transform="translate(1369.97 854.75) scale(1 1.04)" font-size="23.1">15.2</text>
<text transform="translate(1447.09 854.75) scale(1 1.04)" font-size="23.1">5.6</text>
<text transform="translate(1517.97 854.75) scale(1 1.04)" font-size="23.1">9.1</text>
<text transform="translate(1584.48 854.75) scale(1 1.04)" font-size="23.1">11.4</text>
<text transform="translate(1654.82 854.75) scale(1 1.04)" font-size="23.1">15.2</text>
<text transform="translate(1733.96 854.75) scale(1 1.04)" font-size="23.1">5.2</text>
<text transform="translate(1804.68 854.75) scale(1 1.04)" font-size="23.1">7.7</text>
<text transform="translate(1869 854.75) scale(1 1.04)" font-size="23.1">10.1</text>
<text transform="translate(1937.82 854.75) scale(1 1.04)" font-size="23.1">13.7</text>
<text transform="translate(1073.86 886.55) scale(1 1.04)" font-size="25">SSP5</text>
<text transform="translate(1167.59 886.55) scale(1 1.04)" font-size="23.1">8.9</text>
<text transform="translate(1228.8 886.55) scale(1 1.04)" font-size="23.1">17.1</text>
<text transform="translate(1300.28 886.55) scale(1 1.04)" font-size="23.1">33.0</text>
<text transform="translate(1370.51 886.55) scale(1 1.04)" font-size="23.1">49.8</text>
<text transform="translate(1446.96 886.55) scale(1 1.04)" font-size="23.1">7.6</text>
<text transform="translate(1511.22 886.55) scale(1 1.04)" font-size="23.1">16.2</text>
<text transform="translate(1585 886.55) scale(1 1.04)" font-size="23.1">27.1</text>
<text transform="translate(1655.36 886.55) scale(1 1.04)" font-size="23.1">48.3</text>
<text transform="translate(1733.7 886.55) scale(1 1.04)" font-size="23.1">7.0</text>
<text transform="translate(1797.89 886.55) scale(1 1.04)" font-size="23.1">13.8</text>
<text transform="translate(1869.29 886.55) scale(1 1.04)" font-size="23.1">23.9</text>
<text transform="translate(1938.44 886.55) scale(1 1.04)" font-size="23.1">45.2</text>
<path d="M1024.2 574.95 H1996 V893.7 H1024.2 Z M1024.2 733.5 H1996 M1069.7 574.95 V893.7" fill="none" stroke="#000" stroke-width="2.2"/>
<text transform="translate(1054.4 729.39) rotate(-90) scale(1 1.04)" font-size="25.5" class="b" fill="#1a10f0">Coastal area</text>
<text transform="translate(1054.4 888.68) rotate(-90) scale(1 1.04)" font-size="25.5" class="b" fill="#ff1d14">Interior area</text>
<text transform="translate(1057.86 486.8) scale(1 1.01)" font-size="40" class="b">d.</text>
<text transform="translate(1104.88 486.7) scale(1 1.04)" font-size="28" class="b" letter-spacing="0.3">Pension scale for 2030-2060 (trillion dollars)</text>
</g>
<g id="table-e" class="t">
<rect x="1151.00" y="967.50" width="279.50" height="72.45" fill="#d9d9d9"/>
<rect x="1430.00" y="967.50" width="286.00" height="72.45" fill="#f0c232"/>
<rect x="1715.50" y="967.50" width="280.50" height="72.45" fill="#a988de"/>
<rect x="1151.00" y="1039.95" width="69.60" height="31.40" fill="#dbdbdb"/>
<rect x="1220.00" y="1039.95" width="70.30" height="31.40" fill="#99cab5"/>
<rect x="1289.70" y="1039.95" width="71.10" height="31.40" fill="#5bb18c"/>
<rect x="1360.20" y="1039.95" width="70.40" height="31.40" fill="#4baa80"/>
<rect x="1430.00" y="1039.95" width="72.30" height="31.40" fill="#9be356"/>
<rect x="1501.70" y="1039.95" width="71.90" height="31.40" fill="#bdd547"/>
<rect x="1573.00" y="1039.95" width="73.80" height="31.40" fill="#cbcf40"/>
<rect x="1646.20" y="1039.95" width="69.90" height="31.40" fill="#f0c030"/>
<rect x="1715.50" y="1039.95" width="73.10" height="31.40" fill="#f4e89c"/>
<rect x="1788.00" y="1039.95" width="72.10" height="31.40" fill="#d3cab7"/>
<rect x="1859.50" y="1039.95" width="70.10" height="31.40" fill="#b2acd2"/>
<rect x="1929.00" y="1039.95" width="67.00" height="31.40" fill="#7b79ff"/>
<rect x="1151.00" y="1070.75" width="69.60" height="32.40" fill="#dbdbdb"/>
<rect x="1220.00" y="1070.75" width="70.30" height="32.40" fill="#67b793"/>
<rect x="1289.70" y="1070.75" width="71.10" height="32.40" fill="#4caa81"/>
<rect x="1360.20" y="1070.75" width="70.40" height="32.40" fill="#4baa80"/>
<rect x="1430.00" y="1070.75" width="72.30" height="32.40" fill="#9be356"/>
<rect x="1501.70" y="1070.75" width="71.90" height="32.40" fill="#d9c93a"/>
<rect x="1573.00" y="1070.75" width="73.80" height="32.40" fill="#d6cb3c"/>
<rect x="1646.20" y="1070.75" width="69.90" height="32.40" fill="#f0c030"/>
<rect x="1715.50" y="1070.75" width="73.10" height="32.40" fill="#f4e89c"/>
<rect x="1788.00" y="1070.75" width="72.10" height="32.40" fill="#bab3cc"/>
<rect x="1859.50" y="1070.75" width="70.10" height="32.40" fill="#938feb"/>
<rect x="1929.00" y="1070.75" width="67.00" height="32.40" fill="#7b79ff"/>
<rect x="1151.00" y="1102.55" width="69.60" height="32.40" fill="#4fac83"/>
<rect x="1220.00" y="1102.55" width="70.30" height="32.40" fill="#4baa80"/>
<rect x="1289.70" y="1102.55" width="71.10" height="32.40" fill="#54ae87"/>
<rect x="1360.20" y="1102.55" width="70.40" height="32.40" fill="#dbdbdb"/>
<rect x="1430.00" y="1102.55" width="72.30" height="32.40" fill="#9be356"/>
<rect x="1501.70" y="1102.55" width="71.90" height="32.40" fill="#f0c030"/>
<rect x="1573.00" y="1102.55" width="73.80" height="32.40" fill="#bfd446"/>
<rect x="1646.20" y="1102.55" width="69.90" height="32.40" fill="#a7de51"/>
<rect x="1715.50" y="1102.55" width="73.10" height="32.40" fill="#f4e89c"/>
<rect x="1788.00" y="1102.55" width="72.10" height="32.40" fill="#a39ede"/>
<rect x="1859.50" y="1102.55" width="70.10" height="32.40" fill="#7b79ff"/>
<rect x="1929.00" y="1102.55" width="67.00" height="32.40" fill="#beb7c8"/>
<rect x="1151.00" y="1134.35" width="69.60" height="32.30" fill="#dbdbdb"/>
<rect x="1220.00" y="1134.35" width="70.30" height="32.30" fill="#74bd9d"/>
<rect x="1289.70" y="1134.35" width="71.10" height="32.30" fill="#4dab81"/>
<rect x="1360.20" y="1134.35" width="70.40" height="32.30" fill="#4baa80"/>
<rect x="1430.00" y="1134.35" width="72.30" height="32.30" fill="#9be356"/>
<rect x="1501.70" y="1134.35" width="71.90" height="32.30" fill="#d8ca3b"/>
<rect x="1573.00" y="1134.35" width="73.80" height="32.30" fill="#d5cb3c"/>
<rect x="1646.20" y="1134.35" width="69.90" height="32.30" fill="#f0c030"/>
<rect x="1715.50" y="1134.35" width="73.10" height="32.30" fill="#f4e89c"/>
<rect x="1788.00" y="1134.35" width="72.10" height="32.30" fill="#c2bac5"/>
<rect x="1859.50" y="1134.35" width="70.10" height="32.30" fill="#9490eb"/>
<rect x="1929.00" y="1134.35" width="67.00" height="32.30" fill="#7b79ff"/>
<rect x="1151.00" y="1166.05" width="69.60" height="33.05" fill="#dbdbdb"/>
<rect x="1220.00" y="1166.05" width="70.30" height="33.05" fill="#93c8b1"/>
<rect x="1289.70" y="1166.05" width="71.10" height="33.05" fill="#57b089"/>
<rect x="1360.20" y="1166.05" width="70.40" height="33.05" fill="#4baa80"/>
<rect x="1430.00" y="1166.05" width="72.30" height="33.05" fill="#9be356"/>
<rect x="1501.70" y="1166.05" width="71.90" height="33.05" fill="#c0d445"/>
<rect x="1573.00" y="1166.05" width="73.80" height="33.05" fill="#cdce40"/>
<rect x="1646.20" y="1166.05" width="69.90" height="33.05" fill="#f0c030"/>
<rect x="1715.50" y="1166.05" width="73.10" height="33.05" fill="#f4e89c"/>
<rect x="1788.00" y="1166.05" width="72.10" height="33.05" fill="#d1c8b9"/>
<rect x="1859.50" y="1166.05" width="70.10" height="33.05" fill="#afa9d4"/>
<rect x="1929.00" y="1166.05" width="67.00" height="33.05" fill="#7b79ff"/>
<rect x="1151.00" y="1198.50" width="69.60" height="32.85" fill="#dbdbdb"/>
<rect x="1220.00" y="1198.50" width="70.30" height="32.85" fill="#a8cfbf"/>
<rect x="1289.70" y="1198.50" width="71.10" height="32.85" fill="#59b18a"/>
<rect x="1360.20" y="1198.50" width="70.40" height="32.85" fill="#4baa80"/>
<rect x="1430.00" y="1198.50" width="72.30" height="32.85" fill="#9be356"/>
<rect x="1501.70" y="1198.50" width="71.90" height="32.85" fill="#b2d94b"/>
<rect x="1573.00" y="1198.50" width="73.80" height="32.85" fill="#c4d243"/>
<rect x="1646.20" y="1198.50" width="69.90" height="32.85" fill="#f0c030"/>
<rect x="1715.50" y="1198.50" width="73.10" height="32.85" fill="#f4e89c"/>
<rect x="1788.00" y="1198.50" width="72.10" height="32.85" fill="#ddd3af"/>
<rect x="1859.50" y="1198.50" width="70.10" height="32.85" fill="#c1bac5"/>
<rect x="1929.00" y="1198.50" width="67.00" height="32.85" fill="#7b79ff"/>
<rect x="1151.00" y="1230.75" width="69.60" height="32.40" fill="#dbdbdb"/>
<rect x="1220.00" y="1230.75" width="70.30" height="32.40" fill="#a0cdba"/>
<rect x="1289.70" y="1230.75" width="71.10" height="32.40" fill="#50ad84"/>
<rect x="1360.20" y="1230.75" width="70.40" height="32.40" fill="#4baa80"/>
<rect x="1430.00" y="1230.75" width="72.30" height="32.40" fill="#9be356"/>
<rect x="1501.70" y="1230.75" width="71.90" height="32.40" fill="#b9d749"/>
<rect x="1573.00" y="1230.75" width="73.80" height="32.40" fill="#c6d243"/>
<rect x="1646.20" y="1230.75" width="69.90" height="32.40" fill="#f0c030"/>
<rect x="1715.50" y="1230.75" width="73.10" height="32.40" fill="#f4e89c"/>
<rect x="1788.00" y="1230.75" width="72.10" height="32.40" fill="#d9cfb2"/>
<rect x="1859.50" y="1230.75" width="70.10" height="32.40" fill="#bfb8c7"/>
<rect x="1929.00" y="1230.75" width="67.00" height="32.40" fill="#7b79ff"/>
<rect x="1151.00" y="1262.55" width="69.60" height="32.40" fill="#dbdbdb"/>
<rect x="1220.00" y="1262.55" width="70.30" height="32.40" fill="#9bcbb7"/>
<rect x="1289.70" y="1262.55" width="71.10" height="32.40" fill="#4baa80"/>
<rect x="1360.20" y="1262.55" width="70.40" height="32.40" fill="#90c8b0"/>
<rect x="1430.00" y="1262.55" width="72.30" height="32.40" fill="#9be356"/>
<rect x="1501.70" y="1262.55" width="71.90" height="32.40" fill="#cfce3f"/>
<rect x="1573.00" y="1262.55" width="73.80" height="32.40" fill="#cbcf41"/>
<rect x="1646.20" y="1262.55" width="69.90" height="32.40" fill="#f0c030"/>
<rect x="1715.50" y="1262.55" width="73.10" height="32.40" fill="#f4e89c"/>
<rect x="1788.00" y="1262.55" width="72.10" height="32.40" fill="#d3cab7"/>
<rect x="1859.50" y="1262.55" width="70.10" height="32.40" fill="#c8c0c0"/>
<rect x="1929.00" y="1262.55" width="67.00" height="32.40" fill="#7b79ff"/>
<rect x="1151.00" y="1294.35" width="69.60" height="32.30" fill="#dbdbdb"/>
<rect x="1220.00" y="1294.35" width="70.30" height="32.30" fill="#96c9b3"/>
<rect x="1289.70" y="1294.35" width="71.10" height="32.30" fill="#4baa80"/>
<rect x="1360.20" y="1294.35" width="70.40" height="32.30" fill="#51ad85"/>
<rect x="1430.00" y="1294.35" width="72.30" height="32.30" fill="#9be356"/>
<rect x="1501.70" y="1294.35" width="71.90" height="32.30" fill="#c3d344"/>
<rect x="1573.00" y="1294.35" width="73.80" height="32.30" fill="#cccf40"/>
<rect x="1646.20" y="1294.35" width="69.90" height="32.30" fill="#f0c030"/>
<rect x="1715.50" y="1294.35" width="73.10" height="32.30" fill="#f4e89c"/>
<rect x="1788.00" y="1294.35" width="72.10" height="32.30" fill="#d0c7ba"/>
<rect x="1859.50" y="1294.35" width="70.10" height="32.30" fill="#b8b0ce"/>
<rect x="1929.00" y="1294.35" width="67.00" height="32.30" fill="#7b79ff"/>
<rect x="1151.00" y="1326.05" width="69.60" height="32.65" fill="#dbdbdb"/>
<rect x="1220.00" y="1326.05" width="70.30" height="32.65" fill="#a7cfbe"/>
<rect x="1289.70" y="1326.05" width="71.10" height="32.65" fill="#5ab18a"/>
<rect x="1360.20" y="1326.05" width="70.40" height="32.65" fill="#4baa80"/>
<rect x="1430.00" y="1326.05" width="72.30" height="32.65" fill="#9be356"/>
<rect x="1501.70" y="1326.05" width="71.90" height="32.65" fill="#b3d94b"/>
<rect x="1573.00" y="1326.05" width="73.80" height="32.65" fill="#c6d143"/>
<rect x="1646.20" y="1326.05" width="69.90" height="32.65" fill="#f0c030"/>
<rect x="1715.50" y="1326.05" width="73.10" height="32.65" fill="#f4e89c"/>
<rect x="1788.00" y="1326.05" width="72.10" height="32.65" fill="#dcd2b0"/>
<rect x="1859.50" y="1326.05" width="70.10" height="32.65" fill="#bfb7c7"/>
<rect x="1929.00" y="1326.05" width="67.00" height="32.65" fill="#7b79ff"/>
<line x1="1151.00" y1="1005.80" x2="1997.00" y2="1005.80" stroke="#000" stroke-width="2.4"/>
<text transform="translate(1275.09 999) scale(1 1.01)" font-size="29.2">60</text>
<text transform="translate(1557.03 999) scale(1 1.01)" font-size="29.2">65</text>
<text transform="translate(1842.08 999) scale(1 1.01)" font-size="29.2">70</text>
<text transform="translate(1158.16 1032.15) scale(1 1.04)" font-size="26" class="b">2030</text>
<text transform="translate(1227.76 1032.15) scale(1 1.04)" font-size="26" class="b">2040</text>
<text transform="translate(1298.66 1032.15) scale(1 1.04)" font-size="26" class="b">2050</text>
<text transform="translate(1368.41 1032.15) scale(1 1.04)" font-size="26" class="b">2060</text>
<text transform="translate(1440.41 1032.15) scale(1 1.04)" font-size="26" class="b">2030</text>
<text transform="translate(1511.41 1032.15) scale(1 1.04)" font-size="26" class="b">2040</text>
<text transform="translate(1583.91 1032.15) scale(1 1.04)" font-size="26" class="b">2050</text>
<text transform="translate(1653.91 1032.15) scale(1 1.04)" font-size="26" class="b">2060</text>
<text transform="translate(1726.16 1032.15) scale(1 1.04)" font-size="26" class="b">2030</text>
<text transform="translate(1797.76 1032.15) scale(1 1.04)" font-size="26" class="b">2040</text>
<text transform="translate(1867.66 1032.15) scale(1 1.04)" font-size="26" class="b">2050</text>
<text transform="translate(1934.56 1032.15) scale(1 1.04)" font-size="26" class="b">2060</text>
<text transform="translate(1073.86 1064.45) scale(1 1.04)" font-size="25">SSP1</text>
<text transform="translate(1160.82 1064.45) scale(1 1.04)" font-size="23.1">13.2</text>
<text transform="translate(1228.69 1064.45) scale(1 1.04)" font-size="23.1">15.0</text>
<text transform="translate(1299.9 1064.45) scale(1 1.04)" font-size="23.1">17.6</text>
<text transform="translate(1369.73 1064.45) scale(1 1.04)" font-size="23.1">19.4</text>
<text transform="translate(1440.32 1064.45) scale(1 1.04)" font-size="23.1">11.7</text>
<text transform="translate(1511.15 1064.45) scale(1 1.04)" font-size="23.1">14.6</text>
<text transform="translate(1584.64 1064.45) scale(1 1.04)" font-size="23.1">15.8</text>
<text transform="translate(1654.79 1064.45) scale(1 1.04)" font-size="23.1">18.9</text>
<text transform="translate(1727.12 1064.45) scale(1 1.04)" font-size="23.1">11.2</text>
<text transform="translate(1797.95 1064.45) scale(1 1.04)" font-size="23.1">13.1</text>
<text transform="translate(1868.89 1064.45) scale(1 1.04)" font-size="23.1">15.0</text>
<text transform="translate(1937.82 1064.45) scale(1 1.04)" font-size="23.1">18.2</text>
<text transform="translate(1073.86 1096.25) scale(1 1.04)" font-size="25">SSP2</text>
<text transform="translate(1160.8 1096.25) scale(1 1.04)" font-size="23.1">12.1</text>
<text transform="translate(1228.69 1096.25) scale(1 1.04)" font-size="23.1">13.0</text>
<text transform="translate(1299.88 1096.25) scale(1 1.04)" font-size="23.1">13.5</text>
<text transform="translate(1369.9 1096.25) scale(1 1.04)" font-size="23.1">13.6</text>
<text transform="translate(1440.24 1096.25) scale(1 1.04)" font-size="23.1">10.8</text>
<text transform="translate(1511.22 1096.25) scale(1 1.04)" font-size="23.1">12.7</text>
<text transform="translate(1584.65 1096.25) scale(1 1.04)" font-size="23.1">12.6</text>
<text transform="translate(1654.58 1096.25) scale(1 1.04)" font-size="23.1">13.4</text>
<text transform="translate(1727.12 1096.25) scale(1 1.04)" font-size="23.1">10.2</text>
<text transform="translate(1797.73 1096.25) scale(1 1.04)" font-size="23.1">11.4</text>
<text transform="translate(1869.02 1096.25) scale(1 1.04)" font-size="23.1">12.2</text>
<text transform="translate(1937.82 1096.25) scale(1 1.04)" font-size="23.1">12.7</text>
<text transform="translate(1073.86 1128.05) scale(1 1.04)" font-size="25">SSP3</text>
<text transform="translate(1160.75 1128.05) scale(1 1.04)" font-size="23.1">11.6</text>
<text transform="translate(1228.74 1128.05) scale(1 1.04)" font-size="23.1">11.8</text>
<text transform="translate(1299.88 1128.05) scale(1 1.04)" font-size="23.1">11.5</text>
<text transform="translate(1369.73 1128.05) scale(1 1.04)" font-size="23.1">10.4</text>
<text transform="translate(1440.32 1128.05) scale(1 1.04)" font-size="23.1">10.2</text>
<text transform="translate(1511.15 1128.05) scale(1 1.04)" font-size="23.1">11.6</text>
<text transform="translate(1584.64 1128.05) scale(1 1.04)" font-size="23.1">10.8</text>
<text transform="translate(1654.58 1128.05) scale(1 1.04)" font-size="23.1">10.4</text>
<text transform="translate(1733.88 1128.05) scale(1 1.04)" font-size="23.1">9.7</text>
<text transform="translate(1797.9 1128.05) scale(1 1.04)" font-size="23.1">10.3</text>
<text transform="translate(1868.95 1128.05) scale(1 1.04)" font-size="23.1">10.6</text>
<text transform="translate(1937.8 1128.05) scale(1 1.04)" font-size="23.1">10.1</text>
<text transform="translate(1073.86 1159.75) scale(1 1.04)" font-size="25">SSP4</text>
<text transform="translate(1160.73 1159.75) scale(1 1.04)" font-size="23.1">12.5</text>
<text transform="translate(1228.73 1159.75) scale(1 1.04)" font-size="23.1">13.5</text>
<text transform="translate(1299.9 1159.75) scale(1 1.04)" font-size="23.1">14.3</text>
<text transform="translate(1369.88 1159.75) scale(1 1.04)" font-size="23.1">14.5</text>
<text transform="translate(1440.19 1159.75) scale(1 1.04)" font-size="23.1">11.0</text>
<text transform="translate(1511.15 1159.75) scale(1 1.04)" font-size="23.1">13.3</text>
<text transform="translate(1584.72 1159.75) scale(1 1.04)" font-size="23.1">13.2</text>
<text transform="translate(1654.82 1159.75) scale(1 1.04)" font-size="23.1">14.2</text>
<text transform="translate(1727.03 1159.75) scale(1 1.04)" font-size="23.1">10.5</text>
<text transform="translate(1797.97 1159.75) scale(1 1.04)" font-size="23.1">11.7</text>
<text transform="translate(1868.94 1159.75) scale(1 1.04)" font-size="23.1">12.8</text>
<text transform="translate(1937.58 1159.75) scale(1 1.04)" font-size="23.1">13.4</text>
<text transform="translate(1073.86 1191.55) scale(1 1.04)" font-size="25">SSP5</text>
<text transform="translate(1160.74 1191.55) scale(1 1.04)" font-size="23.1">12.8</text>
<text transform="translate(1228.75 1191.55) scale(1 1.04)" font-size="23.1">14.6</text>
<text transform="translate(1299.84 1191.55) scale(1 1.04)" font-size="23.1">17.0</text>
<text transform="translate(1369.73 1191.55) scale(1 1.04)" font-size="23.1">18.4</text>
<text transform="translate(1440.08 1191.55) scale(1 1.04)" font-size="23.1">11.4</text>
<text transform="translate(1511.15 1191.55) scale(1 1.04)" font-size="23.1">14.3</text>
<text transform="translate(1584.65 1191.55) scale(1 1.04)" font-size="23.1">15.3</text>
<text transform="translate(1654.69 1191.55) scale(1 1.04)" font-size="23.1">18.0</text>
<text transform="translate(1727.09 1191.55) scale(1 1.04)" font-size="23.1">10.9</text>
<text transform="translate(1797.89 1191.55) scale(1 1.04)" font-size="23.1">12.8</text>
<text transform="translate(1868.95 1191.55) scale(1 1.04)" font-size="23.1">14.6</text>
<text transform="translate(1937.58 1191.55) scale(1 1.04)" font-size="23.1">17.4</text>
<text transform="translate(1073.86 1224.45) scale(1 1.04)" font-size="25">SSP1</text>
<text transform="translate(1160.75 1224.45) scale(1 1.04)" font-size="23.1">12.6</text>
<text transform="translate(1228.69 1224.45) scale(1 1.04)" font-size="23.1">15.0</text>
<text transform="translate(1300.2 1224.45) scale(1 1.04)" font-size="23.1">20.6</text>
<text transform="translate(1370.27 1224.45) scale(1 1.04)" font-size="23.1">23.7</text>
<text transform="translate(1440.24 1224.45) scale(1 1.04)" font-size="23.1">10.8</text>
<text transform="translate(1511.22 1224.45) scale(1 1.04)" font-size="23.1">14.2</text>
<text transform="translate(1584.64 1224.45) scale(1 1.04)" font-size="23.1">16.8</text>
<text transform="translate(1655.1 1224.45) scale(1 1.04)" font-size="23.1">23.1</text>
<text transform="translate(1733.85 1224.45) scale(1 1.04)" font-size="23.1">9.9</text>
<text transform="translate(1797.95 1224.45) scale(1 1.04)" font-size="23.1">12.1</text>
<text transform="translate(1868.94 1224.45) scale(1 1.04)" font-size="23.1">14.8</text>
<text transform="translate(1938.05 1224.45) scale(1 1.04)" font-size="23.1">21.6</text>
<text transform="translate(1073.86 1256.25) scale(1 1.04)" font-size="25">SSP2</text>
<text transform="translate(1160.8 1256.25) scale(1 1.04)" font-size="23.1">11.1</text>
<text transform="translate(1228.75 1256.25) scale(1 1.04)" font-size="23.1">12.3</text>
<text transform="translate(1299.95 1256.25) scale(1 1.04)" font-size="23.1">15.1</text>
<text transform="translate(1369.89 1256.25) scale(1 1.04)" font-size="23.1">15.8</text>
<text transform="translate(1447.01 1256.25) scale(1 1.04)" font-size="23.1">9.6</text>
<text transform="translate(1511.22 1256.25) scale(1 1.04)" font-size="23.1">11.7</text>
<text transform="translate(1584.65 1256.25) scale(1 1.04)" font-size="23.1">12.6</text>
<text transform="translate(1654.75 1256.25) scale(1 1.04)" font-size="23.1">15.6</text>
<text transform="translate(1733.84 1256.25) scale(1 1.04)" font-size="23.1">8.8</text>
<text transform="translate(1797.84 1256.25) scale(1 1.04)" font-size="23.1">10.0</text>
<text transform="translate(1869 1256.25) scale(1 1.04)" font-size="23.1">11.1</text>
<text transform="translate(1937.8 1256.25) scale(1 1.04)" font-size="23.1">14.1</text>
<text transform="translate(1073.86 1288.05) scale(1 1.04)" font-size="25">SSP3</text>
<text transform="translate(1167.55 1288.05) scale(1 1.04)" font-size="23.1">9.9</text>
<text transform="translate(1228.58 1288.05) scale(1 1.04)" font-size="23.1">10.4</text>
<text transform="translate(1299.97 1288.05) scale(1 1.04)" font-size="23.1">11.7</text>
<text transform="translate(1369.88 1288.05) scale(1 1.04)" font-size="23.1">10.5</text>
<text transform="translate(1447.05 1288.05) scale(1 1.04)" font-size="23.1">8.6</text>
<text transform="translate(1511.09 1288.05) scale(1 1.04)" font-size="23.1">10.0</text>
<text transform="translate(1591.45 1288.05) scale(1 1.04)" font-size="23.1">9.9</text>
<text transform="translate(1654.79 1288.05) scale(1 1.04)" font-size="23.1">10.9</text>
<text transform="translate(1733.79 1288.05) scale(1 1.04)" font-size="23.1">8.0</text>
<text transform="translate(1804.7 1288.05) scale(1 1.04)" font-size="23.1">8.6</text>
<text transform="translate(1875.74 1288.05) scale(1 1.04)" font-size="23.1">8.8</text>
<text transform="translate(1937.82 1288.05) scale(1 1.04)" font-size="23.1">10.2</text>
<text transform="translate(1073.86 1319.75) scale(1 1.04)" font-size="25">SSP4</text>
<text transform="translate(1160.69 1319.75) scale(1 1.04)" font-size="23.1">11.0</text>
<text transform="translate(1228.8 1319.75) scale(1 1.04)" font-size="23.1">12.1</text>
<text transform="translate(1299.9 1319.75) scale(1 1.04)" font-size="23.1">14.6</text>
<text transform="translate(1369.84 1319.75) scale(1 1.04)" font-size="23.1">14.0</text>
<text transform="translate(1446.84 1319.75) scale(1 1.04)" font-size="23.1">9.4</text>
<text transform="translate(1511.13 1319.75) scale(1 1.04)" font-size="23.1">11.5</text>
<text transform="translate(1584.59 1319.75) scale(1 1.04)" font-size="23.1">12.0</text>
<text transform="translate(1654.79 1319.75) scale(1 1.04)" font-size="23.1">13.9</text>
<text transform="translate(1733.85 1319.75) scale(1 1.04)" font-size="23.1">8.6</text>
<text transform="translate(1804.65 1319.75) scale(1 1.04)" font-size="23.1">9.8</text>
<text transform="translate(1868.95 1319.75) scale(1 1.04)" font-size="23.1">10.6</text>
<text transform="translate(1937.75 1319.75) scale(1 1.04)" font-size="23.1">12.6</text>
<text transform="translate(1073.86 1351.55) scale(1 1.04)" font-size="25">SSP5</text>
<text transform="translate(1160.58 1351.55) scale(1 1.04)" font-size="23.1">12.4</text>
<text transform="translate(1228.79 1351.55) scale(1 1.04)" font-size="23.1">14.9</text>
<text transform="translate(1300.17 1351.55) scale(1 1.04)" font-size="23.1">20.5</text>
<text transform="translate(1370.27 1351.55) scale(1 1.04)" font-size="23.1">23.7</text>
<text transform="translate(1440.25 1351.55) scale(1 1.04)" font-size="23.1">10.6</text>
<text transform="translate(1511.2 1351.55) scale(1 1.04)" font-size="23.1">14.1</text>
<text transform="translate(1584.69 1351.55) scale(1 1.04)" font-size="23.1">16.9</text>
<text transform="translate(1654.99 1351.55) scale(1 1.04)" font-size="23.1">23.0</text>
<text transform="translate(1733.88 1351.55) scale(1 1.04)" font-size="23.1">9.7</text>
<text transform="translate(1797.95 1351.55) scale(1 1.04)" font-size="23.1">12.1</text>
<text transform="translate(1868.99 1351.55) scale(1 1.04)" font-size="23.1">14.9</text>
<text transform="translate(1938.05 1351.55) scale(1 1.04)" font-size="23.1">21.6</text>
<path d="M1024.2 1039.95 H1996 V1358.7 H1024.2 Z M1024.2 1198.5 H1996 M1069.7 1039.95 V1358.7" fill="none" stroke="#000" stroke-width="2.2"/>
<text transform="translate(1054.4 1194.39) rotate(-90) scale(1 1.04)" font-size="25.5" class="b" fill="#1a10f0">Coastal area</text>
<text transform="translate(1054.4 1353.68) rotate(-90) scale(1 1.04)" font-size="25.5" class="b" fill="#ff1d14">Interior area</text>
<text transform="translate(1057.24 945.5) scale(1 1.04)" font-size="45" class="b" letter-spacing="0.6">e.</text>
<text transform="translate(1109.69 945) scale(1 1.04)" font-size="28" class="b" letter-spacing="0.3">The proportion of pension scale to GDP (%)</text>
</g>
<g id="a-coastal" class="c">
<text transform="translate(14.13 69.3) scale(1 1.04)" font-size="25" class="b">9</text>
<text transform="translate(14.51 328) scale(1 1.04)" font-size="25" class="b">0</text>
<text transform="translate(33.5 273.44) rotate(-90) scale(1 1.0)" font-size="25.5" class="b" style="stroke-width:.3px">Coastal area</text>
<rect x="49.90" y="58.60" width="8.00" height="4.40" fill="#000"/>
<rect x="50.10" y="318.30" width="132.20" height="4.40" fill="#000"/>
<rect x="234.00" y="58.60" width="8.00" height="4.40" fill="#000"/>
<rect x="234.20" y="318.30" width="131.50" height="4.40" fill="#000"/>
<rect x="422.70" y="58.60" width="8.00" height="4.40" fill="#000"/>
<rect x="422.90" y="318.30" width="131.80" height="4.40" fill="#000"/>
<rect x="620.20" y="58.60" width="8.00" height="4.40" fill="#000"/>
<rect x="620.40" y="318.30" width="131.80" height="4.40" fill="#000"/>
<rect x="804.00" y="58.60" width="8.00" height="4.40" fill="#000"/>
<rect x="804.20" y="318.30" width="131.50" height="4.40" fill="#000"/>
<path d="M57.9 58.6V322.7M242 58.6V322.7M430.7 58.6V322.7M628.2 58.6V322.7M812 58.6V322.7" fill="none" stroke="#000" stroke-width="3.9"/>
<text transform="translate(84.26 78) scale(1 1.03)" font-size="25.6" class="b">SSP1</text>
<text transform="translate(268.01 77.5) scale(1 1.03)" font-size="25.6" class="b">SSP2</text>
<text transform="translate(457.26 77.5) scale(1 1.03)" font-size="25.6" class="b">SSP3</text>
<text transform="translate(654.76 78) scale(1 1.03)" font-size="25.6" class="b">SSP4</text>
<text transform="translate(838.66 76.9) scale(1 1.03)" font-size="25.6" class="b">SSP5</text>
<g id="a-coastal-ssp1">
<text transform="translate(59.49 191.25) scale(1 1.02)" font-size="22.4" class="b">3.8</text>
<text transform="translate(71.12 226.25) scale(1 1.02)" font-size="22.4" class="b">2.6</text>
<text transform="translate(71.69 276.25) scale(1 1.02)" font-size="22.4" class="b">1.9</text>
<text transform="translate(199.18 137.5) scale(1 1.02)" font-size="22.4" class="b">6.6</text>
<text transform="translate(200.26 190) scale(1 1.02)" font-size="22.4" class="b">4.5</text>
<text transform="translate(201.39 236.9) scale(1 1.02)" font-size="22.4" class="b">3.5</text>
<path d="M57.9 265L182 220" stroke="#44c45c" stroke-width="3.7" fill="none"/><circle cx="57.9" cy="265" r="9.8" fill="#44c45c"/><circle cx="182" cy="220" r="9.8" fill="#44c45c"/>
<path d="M57.9 246.9L182 190" stroke="#1e00ff" stroke-width="3.7" fill="none"/><circle cx="57.9" cy="246.9" r="9.8" fill="#1e00ff"/><circle cx="182" cy="190" r="9.8" fill="#1e00ff"/>
<path d="M57.9 211.9L182 129" stroke="#dc3068" stroke-width="3.7" fill="none"/><circle cx="57.9" cy="211.9" r="9.8" fill="#dc3068"/><circle cx="182" cy="129" r="9.8" fill="#dc3068"/>
</g>
<g id="a-coastal-ssp2">
<path d="M242 271.5L365.4 248.75" stroke="#44c45c" stroke-width="3.7" fill="none"/><circle cx="242" cy="271.5" r="9.8" fill="#44c45c"/><circle cx="365.4" cy="248.75" r="9.8" fill="#44c45c"/>
<path d="M242 251.9L365.4 226" stroke="#1e00ff" stroke-width="3.7" fill="none"/><circle cx="242" cy="251.9" r="9.8" fill="#1e00ff"/><circle cx="365.4" cy="226" r="9.8" fill="#1e00ff"/>
<path d="M242 228.1L365.4 189.75" stroke="#dc3068" stroke-width="3.7" fill="none"/><circle cx="242" cy="228.1" r="9.8" fill="#dc3068"/><circle cx="365.4" cy="189.75" r="9.8" fill="#dc3068"/>
<text transform="translate(250.09 213.75) scale(1 1.02)" font-size="22.4" class="b">3.2</text>
<text transform="translate(252.32 255) scale(1 1.02)" font-size="22.4" class="b">2.4</text>
<text transform="translate(252.99 294.4) scale(1 1.02)" font-size="22.4" class="b">1.7</text>
<text transform="translate(384.66 186.9) scale(1 1.02)" font-size="22.4" class="b">4.5</text>
<text transform="translate(384.49 234.4) scale(1 1.02)" font-size="22.4" class="b">3.3</text>
<text transform="translate(384.22 266.25) scale(1 1.02)" font-size="22.4" class="b">2.5</text>
</g>
<g id="a-coastal-ssp3">
<text transform="translate(448.62 217.5) scale(1 1.02)" font-size="22.4" class="b">2.9</text>
<text transform="translate(447.34 257.75) scale(1 1.02)" font-size="22.4" class="b">1.9</text>
<text transform="translate(439.19 303.1) scale(1 1.02)" font-size="22.4" class="b">1.7</text>
<text transform="translate(572.59 239) scale(1 1.02)" font-size="22.4" class="b">3.0</text>
<text transform="translate(575.47 263.1) scale(1 1.02)" font-size="22.4" class="b">2.0</text>
<text transform="translate(566.09 291.9) scale(1 1.02)" font-size="22.4" class="b">1.5</text>
<path d="M430.7 271.9L554.4 278.1" stroke="#44c45c" stroke-width="3.7" fill="none"/><circle cx="430.7" cy="271.9" r="9.8" fill="#44c45c"/><circle cx="554.4" cy="278.1" r="9.8" fill="#44c45c"/>
<path d="M430.7 263.5L554.4 261.9" stroke="#1e00ff" stroke-width="3.7" fill="none"/><circle cx="430.7" cy="263.5" r="9.8" fill="#1e00ff"/><circle cx="554.4" cy="261.9" r="9.8" fill="#1e00ff"/>
<path d="M430.7 237.25L554.4 233.5" stroke="#dc3068" stroke-width="3.7" fill="none"/><circle cx="430.7" cy="237.25" r="9.8" fill="#dc3068"/><circle cx="554.4" cy="233.5" r="9.8" fill="#dc3068"/>
</g>
<g id="a-coastal-ssp4">
<text transform="translate(639.49 219.4) scale(1 1.02)" font-size="22.4" class="b">3.0</text>
<text transform="translate(645.22 256.25) scale(1 1.02)" font-size="22.4" class="b">2.1</text>
<text transform="translate(639.19 299.4) scale(1 1.02)" font-size="22.4" class="b">1.7</text>
<text transform="translate(763.49 217.5) scale(1 1.02)" font-size="22.4" class="b">3.4</text>
<text transform="translate(761.72 250) scale(1 1.02)" font-size="22.4" class="b">2.4</text>
<text transform="translate(763.59 283.75) scale(1 1.02)" font-size="22.4" class="b">1.9</text>
<path d="M628.2 271.5L751.9 267.5" stroke="#44c45c" stroke-width="3.7" fill="none"/><circle cx="628.2" cy="271.5" r="9.8" fill="#44c45c"/><circle cx="751.9" cy="267.5" r="9.8" fill="#44c45c"/>
<path d="M628.2 261.6L751.9 250.6" stroke="#1e00ff" stroke-width="3.7" fill="none"/><circle cx="628.2" cy="261.6" r="9.8" fill="#1e00ff"/><circle cx="751.9" cy="250.6" r="9.8" fill="#1e00ff"/>
<path d="M628.2 234L751.9 223.5" stroke="#dc3068" stroke-width="3.7" fill="none"/><circle cx="628.2" cy="234" r="9.8" fill="#dc3068"/><circle cx="751.9" cy="223.5" r="9.8" fill="#dc3068"/>
</g>
<g id="a-coastal-ssp5">
<path d="M812 260.25L935.4 186" stroke="#44c45c" stroke-width="3.7" fill="none"/><circle cx="812" cy="260.25" r="9.8" fill="#44c45c"/><circle cx="935.4" cy="186" r="9.8" fill="#44c45c"/>
<path d="M812 240.25L935.4 146" stroke="#1e00ff" stroke-width="3.7" fill="none"/><circle cx="812" cy="240.25" r="9.8" fill="#1e00ff"/><circle cx="935.4" cy="146" r="9.8" fill="#1e00ff"/>
<path d="M812 202.2L935.4 65" stroke="#dc3068" stroke-width="3.7" fill="none"/><circle cx="812" cy="202.2" r="9.8" fill="#dc3068"/><circle cx="935.4" cy="65" r="9.8" fill="#dc3068"/>
<text transform="translate(828.41 199.4) scale(1 1.02)" font-size="22.4" class="b">4.1</text>
<text transform="translate(821.72 246) scale(1 1.02)" font-size="22.4" class="b">2.8</text>
<text transform="translate(828.62 285) scale(1 1.02)" font-size="22.4" class="b">2.1</text>
<text transform="translate(952.39 73.1) scale(1 1.02)" font-size="22.4" class="b">8.8</text>
<text transform="translate(953.58 154) scale(1 1.02)" font-size="22.4" class="b">6.0</text>
<text transform="translate(954.41 194.4) scale(1 1.02)" font-size="22.4" class="b">4.6</text>
</g>
</g>
<g id="a-interior" class="c">
<text transform="translate(0.73 358) scale(1 1.04)" font-size="25" class="b">11</text>
<text transform="translate(14.51 617.5) scale(1 1.04)" font-size="25" class="b">0</text>
<text transform="translate(33.5 563.93) rotate(-90) scale(1 1.0)" font-size="25.5" class="b" style="stroke-width:.3px">Interior area</text>
<rect x="50.20" y="348.90" width="8.00" height="4.40" fill="#000"/>
<rect x="50.40" y="607.50" width="132.15" height="4.40" fill="#000"/>
<rect x="235.00" y="349.60" width="8.00" height="4.40" fill="#000"/>
<rect x="235.20" y="608.20" width="132.85" height="4.40" fill="#000"/>
<rect x="425.70" y="351.20" width="8.00" height="4.40" fill="#000"/>
<rect x="425.90" y="609.80" width="132.90" height="4.40" fill="#000"/>
<rect x="622.80" y="350.60" width="8.00" height="4.40" fill="#000"/>
<rect x="623.00" y="609.20" width="132.30" height="4.40" fill="#000"/>
<rect x="804.00" y="352.00" width="8.00" height="4.40" fill="#000"/>
<rect x="804.20" y="610.60" width="132.35" height="4.40" fill="#000"/>
<path d="M58.2 348.9V611.9M243 349.6V612.6M433.7 351.2V614.2M630.8 350.6V613.6M812 352V615" fill="none" stroke="#000" stroke-width="3.9"/>
<text transform="translate(76.76 367.5) scale(1 1.03)" font-size="25.6" class="b">SSP1</text>
<text transform="translate(40.6 644.75) scale(1 0.98)" font-size="25.7" class="b">2030</text>
<text transform="translate(142.4 644.75) scale(1 0.98)" font-size="25.7" class="b">2060</text>
<text transform="translate(269.76 367.5) scale(1 1.03)" font-size="25.6" class="b">SSP2</text>
<text transform="translate(224 644.75) scale(1 0.98)" font-size="25.7" class="b">2030</text>
<text transform="translate(325.6 644.75) scale(1 0.98)" font-size="25.7" class="b">2060</text>
<text transform="translate(460.51 367.5) scale(1 1.03)" font-size="25.6" class="b">SSP3</text>
<text transform="translate(414.6 644.75) scale(1 0.98)" font-size="25.7" class="b">2030</text>
<text transform="translate(516.5 644.75) scale(1 0.98)" font-size="25.7" class="b">2060</text>
<text transform="translate(657.26 368.75) scale(1 1.03)" font-size="25.6" class="b">SSP4</text>
<text transform="translate(611.1 644.75) scale(1 0.98)" font-size="25.7" class="b">2030</text>
<text transform="translate(713.1 644.75) scale(1 0.98)" font-size="25.7" class="b">2060</text>
<text transform="translate(839.26 370) scale(1 1.03)" font-size="25.6" class="b">SSP5</text>
<text transform="translate(791.8 644.75) scale(1 0.98)" font-size="25.7" class="b">2030</text>
<text transform="translate(893.9 644.75) scale(1 0.98)" font-size="25.7" class="b">2060</text>
<g id="a-interior-ssp1">
<text transform="translate(58.66 490) scale(1 1.02)" font-size="22.4" class="b">4.2</text>
<text transform="translate(71.72 523.1) scale(1 1.02)" font-size="22.4" class="b">2.8</text>
<text transform="translate(71.72 571.9) scale(1 1.02)" font-size="22.4" class="b">2.1</text>
<text transform="translate(191.54 428.1) scale(1 1.02)" font-size="22.4" class="b">8.0</text>
<text transform="translate(192.41 479.75) scale(1 1.02)" font-size="22.4" class="b">5.5</text>
<text transform="translate(193.16 528.1) scale(1 1.02)" font-size="22.4" class="b">4.2</text>
<path d="M58.2 561.25L182.25 511.5" stroke="#44c45c" stroke-width="3.7" fill="none"/><circle cx="58.2" cy="561.25" r="9.8" fill="#44c45c"/><circle cx="182.25" cy="511.5" r="9.8" fill="#44c45c"/>
<path d="M58.2 543.75L182.25 480" stroke="#1e00ff" stroke-width="3.7" fill="none"/><circle cx="58.2" cy="543.75" r="9.8" fill="#1e00ff"/><circle cx="182.25" cy="480" r="9.8" fill="#1e00ff"/>
<path d="M58.2 510.6L182.25 420" stroke="#dc3068" stroke-width="3.7" fill="none"/><circle cx="58.2" cy="510.6" r="9.8" fill="#dc3068"/><circle cx="182.25" cy="420" r="9.8" fill="#dc3068"/>
</g>
<g id="a-interior-ssp2">
<path d="M243 568.5L367.75 541" stroke="#44c45c" stroke-width="3.7" fill="none"/><circle cx="243" cy="568.5" r="9.8" fill="#44c45c"/><circle cx="367.75" cy="541" r="9.8" fill="#44c45c"/>
<path d="M243 551.5L367.75 517.5" stroke="#1e00ff" stroke-width="3.7" fill="none"/><circle cx="243" cy="551.5" r="9.8" fill="#1e00ff"/><circle cx="367.75" cy="517.5" r="9.8" fill="#1e00ff"/>
<path d="M243 529L367.75 480.6" stroke="#dc3068" stroke-width="3.7" fill="none"/><circle cx="243" cy="529" r="9.8" fill="#dc3068"/><circle cx="367.75" cy="480.6" r="9.8" fill="#dc3068"/>
<text transform="translate(250.99 513.75) scale(1 1.02)" font-size="22.4" class="b">3.5</text>
<text transform="translate(253.97 554) scale(1 1.02)" font-size="22.4" class="b">2.5</text>
<text transform="translate(254.19 591.25) scale(1 1.02)" font-size="22.4" class="b">1.8</text>
<text transform="translate(386.56 477.25) scale(1 1.02)" font-size="22.4" class="b">5.5</text>
<text transform="translate(386.74 525.6) scale(1 1.02)" font-size="22.4" class="b">3.9</text>
<text transform="translate(386.47 558.1) scale(1 1.02)" font-size="22.4" class="b">2.9</text>
</g>
<g id="a-interior-ssp3">
<text transform="translate(443.24 525.6) scale(1 1.02)" font-size="22.4" class="b">3.0</text>
<text transform="translate(450.47 558.1) scale(1 1.02)" font-size="22.4" class="b">2.0</text>
<text transform="translate(442.34 602.5) scale(1 1.02)" font-size="22.4" class="b">1.7</text>
<text transform="translate(576.74 535) scale(1 1.02)" font-size="22.4" class="b">3.5</text>
<text transform="translate(578.62 557.5) scale(1 1.02)" font-size="22.4" class="b">2.4</text>
<text transform="translate(569.84 588.1) scale(1 1.02)" font-size="22.4" class="b">1.6</text>
<path d="M433.7 572.25L558.5 574.75" stroke="#44c45c" stroke-width="3.7" fill="none"/><circle cx="433.7" cy="572.25" r="9.8" fill="#44c45c"/><circle cx="558.5" cy="574.75" r="9.8" fill="#44c45c"/>
<path d="M433.7 564.4L558.5 556" stroke="#1e00ff" stroke-width="3.7" fill="none"/><circle cx="433.7" cy="564.4" r="9.8" fill="#1e00ff"/><circle cx="558.5" cy="556" r="9.8" fill="#1e00ff"/>
<path d="M433.7 540L558.5 529" stroke="#dc3068" stroke-width="3.7" fill="none"/><circle cx="433.7" cy="540" r="9.8" fill="#dc3068"/><circle cx="558.5" cy="529" r="9.8" fill="#dc3068"/>
</g>
<g id="a-interior-ssp4">
<text transform="translate(641.99 520) scale(1 1.02)" font-size="22.4" class="b">3.3</text>
<text transform="translate(647.72 554) scale(1 1.02)" font-size="22.4" class="b">2.2</text>
<text transform="translate(641.69 597.75) scale(1 1.02)" font-size="22.4" class="b">1.8</text>
<text transform="translate(766.74 513.75) scale(1 1.02)" font-size="22.4" class="b">3.9</text>
<text transform="translate(765.22 545.25) scale(1 1.02)" font-size="22.4" class="b">2.8</text>
<text transform="translate(765.22 578.5) scale(1 1.02)" font-size="22.4" class="b">2.1</text>
<path d="M630.8 569.4L755 561.9" stroke="#44c45c" stroke-width="3.7" fill="none"/><circle cx="630.8" cy="569.4" r="9.8" fill="#44c45c"/><circle cx="755" cy="561.9" r="9.8" fill="#44c45c"/>
<path d="M630.8 560.25L755 545.6" stroke="#1e00ff" stroke-width="3.7" fill="none"/><circle cx="630.8" cy="560.25" r="9.8" fill="#1e00ff"/><circle cx="755" cy="545.6" r="9.8" fill="#1e00ff"/>
<path d="M630.8 534.75L755 519.75" stroke="#dc3068" stroke-width="3.7" fill="none"/><circle cx="630.8" cy="534.75" r="9.8" fill="#dc3068"/><circle cx="755" cy="519.75" r="9.8" fill="#dc3068"/>
</g>
<g id="a-interior-ssp5">
<path d="M812 560.4L936.25 481.9" stroke="#44c45c" stroke-width="3.7" fill="none"/><circle cx="812" cy="560.4" r="9.8" fill="#44c45c"/><circle cx="936.25" cy="481.9" r="9.8" fill="#44c45c"/>
<path d="M812 541.7L936.25 439.75" stroke="#1e00ff" stroke-width="3.7" fill="none"/><circle cx="812" cy="541.7" r="9.8" fill="#1e00ff"/><circle cx="936.25" cy="439.75" r="9.8" fill="#1e00ff"/>
<path d="M812 505.6L936.25 359.75" stroke="#dc3068" stroke-width="3.7" fill="none"/><circle cx="812" cy="505.6" r="9.8" fill="#dc3068"/><circle cx="936.25" cy="359.75" r="9.8" fill="#dc3068"/>
<text transform="translate(829.06 502.5) scale(1 1.02)" font-size="22.4" class="b">4.5</text>
<text transform="translate(822.59 547.25) scale(1 1.02)" font-size="22.4" class="b">3.0</text>
<text transform="translate(828.62 584.4) scale(1 1.02)" font-size="22.4" class="b">2.2</text>
<text transform="translate(944.84 383.1) scale(1 1.02)" font-size="22.4" class="b">10.7</text>
<text transform="translate(955.29 448.1) scale(1 1.02)" font-size="22.4" class="b">7.3</text>
<text transform="translate(954.91 489.4) scale(1 1.02)" font-size="22.4" class="b">5.6</text>
</g>
<line x1="940.60" y1="531.50" x2="965.25" y2="531.50" stroke="#44c45c" stroke-width="4.0"/>
<text transform="translate(976.07 540) scale(1 1.0)" font-size="22.8" class="b" fill="#44c45c" style="stroke:#44c45c;stroke-width:.4px">60</text>
<line x1="940.60" y1="559.90" x2="965.25" y2="559.90" stroke="#1e00ff" stroke-width="4.0"/>
<text transform="translate(976.07 567.75) scale(1 1.0)" font-size="22.8" class="b" fill="#1e00ff" style="stroke:#1e00ff;stroke-width:.4px">65</text>
<line x1="940.60" y1="587.75" x2="965.25" y2="587.75" stroke="#dc3068" stroke-width="4.0"/>
<text transform="translate(975.92 595.6) scale(1 1.0)" font-size="22.8" class="b" fill="#dc3068" style="stroke:#dc3068;stroke-width:.4px">70</text>
</g>
<g id="c-coastal" class="c">
<text transform="translate(11.58 786.25) scale(1 1.04)" font-size="25" class="b">62</text>
<text transform="translate(26.23 1045) scale(1 1.04)" font-size="25" class="b">5</text>
<text transform="translate(43 971.44) rotate(-90) scale(1 1.0)" font-size="25.5" class="b" style="stroke-width:.3px">Coastal area</text>
<rect x="62.00" y="776.80" width="8.00" height="4.40" fill="#000"/>
<rect x="62.20" y="1034.80" width="132.50" height="4.40" fill="#000"/>
<rect x="239.00" y="776.80" width="8.00" height="4.40" fill="#000"/>
<rect x="239.20" y="1034.80" width="133.00" height="4.40" fill="#000"/>
<rect x="430.10" y="776.80" width="8.00" height="4.40" fill="#000"/>
<rect x="430.30" y="1034.80" width="133.10" height="4.40" fill="#000"/>
<rect x="622.60" y="776.80" width="8.00" height="4.40" fill="#000"/>
<rect x="622.80" y="1034.80" width="132.50" height="4.40" fill="#000"/>
<rect x="806.60" y="776.80" width="8.00" height="4.40" fill="#000"/>
<rect x="806.80" y="1034.80" width="132.50" height="4.40" fill="#000"/>
<path d="M70 776.8V1039.2M247 776.8V1039.2M438.1 776.8V1039.2M630.6 776.8V1039.2M814.6 776.8V1039.2" fill="none" stroke="#000" stroke-width="3.9"/>
<text transform="translate(88.01 795) scale(1 1.03)" font-size="25.6" class="b">SSP1</text>
<text transform="translate(273.51 795) scale(1 1.03)" font-size="25.6" class="b">SSP2</text>
<text transform="translate(464.76 795) scale(1 1.03)" font-size="25.6" class="b">SSP3</text>
<text transform="translate(656.76 795) scale(1 1.03)" font-size="25.6" class="b">SSP4</text>
<text transform="translate(841.51 795) scale(1 1.03)" font-size="25.6" class="b">SSP5</text>
<g id="c-coastal-ssp1">
<text transform="translate(79.59 967) scale(1 1.02)" font-size="22.4" class="b">14.7</text>
<text transform="translate(91.34 995) scale(1 1.02)" font-size="22.4" class="b">13.1</text>
<text transform="translate(94.84 1026.25) scale(1 1.02)" font-size="22.4" class="b">12.5</text>
<text transform="translate(187.16 816.9) scale(1 1.02)" font-size="22.4" class="b">48.4</text>
<text transform="translate(126.16 849.75) scale(1 1.02)" font-size="22.4" class="b">47.1</text>
<text transform="translate(180.26 896.25) scale(1 1.02)" font-size="22.4" class="b">45.4</text>
<path d="M70 992.25L194.4 839.75" stroke="#44c45c" stroke-width="3.7" fill="none"/><circle cx="70" cy="992.25" r="9.8" fill="#44c45c"/><circle cx="194.4" cy="839.75" r="9.8" fill="#44c45c"/>
<path d="M70 999.5L194.4 845.6" stroke="#1e00ff" stroke-width="3.7" fill="none"/><circle cx="70" cy="999.5" r="9.8" fill="#1e00ff"/><circle cx="194.4" cy="845.6" r="9.8" fill="#1e00ff"/>
<path d="M70 1003.1L194.4 853.75" stroke="#dc3068" stroke-width="3.7" fill="none"/><circle cx="70" cy="1003.1" r="9.8" fill="#dc3068"/><circle cx="194.4" cy="853.75" r="9.8" fill="#dc3068"/>
</g>
<g id="c-coastal-ssp2">
<path d="M247 1002.9L371.9 937.5" stroke="#44c45c" stroke-width="3.7" fill="none"/><circle cx="247" cy="1002.9" r="9.8" fill="#44c45c"/><circle cx="371.9" cy="937.5" r="9.8" fill="#44c45c"/>
<path d="M247 1008.5L371.9 939.5" stroke="#1e00ff" stroke-width="3.7" fill="none"/><circle cx="247" cy="1008.5" r="9.8" fill="#1e00ff"/><circle cx="371.9" cy="939.5" r="9.8" fill="#1e00ff"/>
<path d="M247 1011.9L371.9 945.6" stroke="#dc3068" stroke-width="3.7" fill="none"/><circle cx="247" cy="1011.9" r="9.8" fill="#dc3068"/><circle cx="371.9" cy="945.6" r="9.8" fill="#dc3068"/>
<text transform="translate(254.19 979.75) scale(1 1.02)" font-size="22.4" class="b">12.5</text>
<text transform="translate(272.59 1003.75) scale(1 1.02)" font-size="22.4" class="b">11.2</text>
<text transform="translate(257.09 1031.9) scale(1 1.02)" font-size="22.4" class="b">10.6</text>
<text transform="translate(375.72 914.4) scale(1 1.02)" font-size="22.4" class="b">26.9</text>
<text transform="translate(321.12 931.25) scale(1 1.02)" font-size="22.4" class="b">26.5</text>
<text transform="translate(378.97 978.75) scale(1 1.02)" font-size="22.4" class="b">25.1</text>
</g>
<g id="c-coastal-ssp3">
<text transform="translate(440.49 974.75) scale(1 1.02)" font-size="22.4" class="b">11.2</text>
<text transform="translate(454.82 1000.6) scale(1 1.02)" font-size="22.4" class="b">9.8</text>
<text transform="translate(456.72 1028.75) scale(1 1.02)" font-size="22.4" class="b">9.3</text>
<text transform="translate(536.09 971) scale(1 1.02)" font-size="22.4" class="b">14.1</text>
<text transform="translate(571.69 991) scale(1 1.02)" font-size="22.4" class="b">14.2</text>
<text transform="translate(563.59 1027.5) scale(1 1.02)" font-size="22.4" class="b">13.7</text>
<path d="M438.1 1008.9L563.1 995.7" stroke="#44c45c" stroke-width="3.7" fill="none"/><circle cx="438.1" cy="1008.9" r="9.8" fill="#44c45c"/><circle cx="563.1" cy="995.7" r="9.8" fill="#44c45c"/>
<path d="M438.1 1014.5L563.1 995.3" stroke="#1e00ff" stroke-width="3.7" fill="none"/><circle cx="438.1" cy="1014.5" r="9.8" fill="#1e00ff"/><circle cx="563.1" cy="995.3" r="9.8" fill="#1e00ff"/>
<path d="M438.1 1017.5L563.1 997.5" stroke="#dc3068" stroke-width="3.7" fill="none"/><circle cx="438.1" cy="1017.5" r="9.8" fill="#dc3068"/><circle cx="563.1" cy="997.5" r="9.8" fill="#dc3068"/>
</g>
<g id="c-coastal-ssp4">
<path d="M630.6 1001L755 940.4" stroke="#44c45c" stroke-width="3.7" fill="none"/><circle cx="630.6" cy="1001" r="9.8" fill="#44c45c"/><circle cx="755" cy="940.4" r="9.8" fill="#44c45c"/>
<path d="M630.6 1007.2L755 942.4" stroke="#1e00ff" stroke-width="3.7" fill="none"/><circle cx="630.6" cy="1007.2" r="9.8" fill="#1e00ff"/><circle cx="755" cy="942.4" r="9.8" fill="#1e00ff"/>
<path d="M630.6 1010.6L755 949.4" stroke="#dc3068" stroke-width="3.7" fill="none"/><circle cx="630.6" cy="1010.6" r="9.8" fill="#dc3068"/><circle cx="755" cy="949.4" r="9.8" fill="#dc3068"/>
<text transform="translate(631.34 974.4) scale(1 1.02)" font-size="22.4" class="b">12.9</text>
<text transform="translate(644.19 1013.5) scale(1 1.02)" font-size="22.4" class="b">11.4</text>
<text transform="translate(632.09 1035.6) scale(1 1.02)" font-size="22.4" class="b">10.8</text>
<text transform="translate(758.97 919.4) scale(1 1.02)" font-size="22.4" class="b">26.4</text>
<text transform="translate(706.72 945.6) scale(1 1.02)" font-size="22.4" class="b">25.8</text>
<text transform="translate(742.72 980.6) scale(1 1.02)" font-size="22.4" class="b">24.3</text>
</g>
<g id="c-coastal-ssp5">
<text transform="translate(832.34 969.5) scale(1 1.02)" font-size="22.4" class="b">15.7</text>
<text transform="translate(827.34 998.75) scale(1 1.02)" font-size="22.4" class="b">13.9</text>
<text transform="translate(833.09 1030.5) scale(1 1.02)" font-size="22.4" class="b">13.3</text>
<text transform="translate(869.31 829.4) scale(1 1.02)" font-size="22.4" class="b">58.3</text>
<text transform="translate(934.18 845) scale(1 1.02)" font-size="22.4" class="b">60.3</text>
<path d="M814.6 988.6L939 779.75" stroke="#44c45c" stroke-width="3.7" fill="none"/><circle cx="814.6" cy="988.6" r="9.8" fill="#44c45c"/><circle cx="939" cy="779.75" r="9.8" fill="#44c45c"/>
<path d="M814.6 995.5L939 785.75" stroke="#1e00ff" stroke-width="3.7" fill="none"/><circle cx="814.6" cy="995.5" r="9.8" fill="#1e00ff"/><circle cx="939" cy="785.75" r="9.8" fill="#1e00ff"/>
<path d="M814.6 998.75L939 795" stroke="#dc3068" stroke-width="3.7" fill="none"/><circle cx="814.6" cy="998.75" r="9.8" fill="#dc3068"/><circle cx="939" cy="795" r="9.8" fill="#dc3068"/>
<text transform="translate(940.18 810.6) scale(1 1.02)" font-size="22.4" class="b">61.6</text>
<line x1="938.75" y1="786.25" x2="956.9" y2="809.4" stroke="#a0a0a0" stroke-width="1.6"/>
</g>
</g>
<g id="c-interior" class="c">
<text transform="translate(11.73 1074) scale(1 1.04)" font-size="25" class="b">50</text>
<text transform="translate(26.01 1333.25) scale(1 1.04)" font-size="25" class="b">0</text>
<text transform="translate(43 1258.63) rotate(-90) scale(1 1.0)" font-size="25.5" class="b" style="stroke-width:.3px">Interior area</text>
<rect x="61.80" y="1065.00" width="8.00" height="4.40" fill="#000"/>
<rect x="62.00" y="1324.20" width="131.80" height="4.40" fill="#000"/>
<rect x="236.60" y="1064.10" width="8.00" height="4.40" fill="#000"/>
<rect x="236.80" y="1323.30" width="132.00" height="4.40" fill="#000"/>
<rect x="429.60" y="1063.80" width="8.00" height="4.40" fill="#000"/>
<rect x="429.80" y="1323.00" width="132.40" height="4.40" fill="#000"/>
<rect x="623.20" y="1063.70" width="8.00" height="4.40" fill="#000"/>
<rect x="623.40" y="1322.90" width="131.90" height="4.40" fill="#000"/>
<rect x="805.20" y="1063.60" width="8.00" height="4.40" fill="#000"/>
<rect x="805.40" y="1322.80" width="131.80" height="4.40" fill="#000"/>
<path d="M69.8 1065V1328.6M244.6 1064.1V1327.7M437.6 1063.8V1327.4M631.2 1063.7V1327.3M813.2 1063.6V1327.2" fill="none" stroke="#000" stroke-width="3.9"/>
<text transform="translate(87.26 1083.25) scale(1 1.03)" font-size="25.6" class="b">SSP1</text>
<text transform="translate(46.9 1356.75) scale(1 0.98)" font-size="25.7" class="b">2030</text>
<text transform="translate(149 1356.75) scale(1 0.98)" font-size="25.7" class="b">2060</text>
<text transform="translate(271.26 1083.25) scale(1 1.03)" font-size="25.6" class="b">SSP2</text>
<text transform="translate(230.5 1356.75) scale(1 0.98)" font-size="25.7" class="b">2030</text>
<text transform="translate(332.1 1356.75) scale(1 0.98)" font-size="25.7" class="b">2060</text>
<text transform="translate(463.76 1083) scale(1 1.03)" font-size="25.6" class="b">SSP3</text>
<text transform="translate(420.6 1356.75) scale(1 0.98)" font-size="25.7" class="b">2030</text>
<text transform="translate(523.1 1356.75) scale(1 0.98)" font-size="25.7" class="b">2060</text>
<text transform="translate(658.01 1083.25) scale(1 1.03)" font-size="25.6" class="b">SSP4</text>
<text transform="translate(616.9 1356.75) scale(1 0.98)" font-size="25.7" class="b">2030</text>
<text transform="translate(719 1356.75) scale(1 0.98)" font-size="25.7" class="b">2060</text>
<text transform="translate(839.86 1081.9) scale(1 1.03)" font-size="25.6" class="b">SSP5</text>
<text transform="translate(798.4 1356.75) scale(1 0.98)" font-size="25.7" class="b">2030</text>
<text transform="translate(899.9 1356.75) scale(1 0.98)" font-size="25.7" class="b">2060</text>
<g id="c-interior-ssp1">
<text transform="translate(85.29 1257.25) scale(1 1.02)" font-size="22.4" class="b">8.3</text>
<text transform="translate(96.54 1283.9) scale(1 1.02)" font-size="22.4" class="b">7.1</text>
<text transform="translate(99.78 1315.1) scale(1 1.02)" font-size="22.4" class="b">6.5</text>
<text transform="translate(185.99 1111) scale(1 1.02)" font-size="22.4" class="b">37.0</text>
<text transform="translate(125.49 1142.75) scale(1 1.02)" font-size="22.4" class="b">36.1</text>
<text transform="translate(179.49 1194) scale(1 1.02)" font-size="22.4" class="b">33.8</text>
<path d="M69.8 1283.6L193.5 1133.75" stroke="#44c45c" stroke-width="3.7" fill="none"/><circle cx="69.8" cy="1283.6" r="9.8" fill="#44c45c"/><circle cx="193.5" cy="1133.75" r="9.8" fill="#44c45c"/>
<path d="M69.8 1289.5L193.5 1138.5" stroke="#1e00ff" stroke-width="3.7" fill="none"/><circle cx="69.8" cy="1289.5" r="9.8" fill="#1e00ff"/><circle cx="193.5" cy="1138.5" r="9.8" fill="#1e00ff"/>
<path d="M69.8 1292.6L193.5 1151" stroke="#dc3068" stroke-width="3.7" fill="none"/><circle cx="69.8" cy="1292.6" r="9.8" fill="#dc3068"/><circle cx="193.5" cy="1151" r="9.8" fill="#dc3068"/>
</g>
<g id="c-interior-ssp2">
<path d="M244.6 1290.6L368.5 1224.75" stroke="#44c45c" stroke-width="3.7" fill="none"/><circle cx="244.6" cy="1290.6" r="9.8" fill="#44c45c"/><circle cx="368.5" cy="1224.75" r="9.8" fill="#44c45c"/>
<path d="M244.6 1295.6L368.5 1225.9" stroke="#1e00ff" stroke-width="3.7" fill="none"/><circle cx="244.6" cy="1295.6" r="9.8" fill="#1e00ff"/><circle cx="368.5" cy="1225.9" r="9.8" fill="#1e00ff"/>
<path d="M244.6 1298.3L368.5 1236" stroke="#dc3068" stroke-width="3.7" fill="none"/><circle cx="244.6" cy="1298.3" r="9.8" fill="#dc3068"/><circle cx="368.5" cy="1236" r="9.8" fill="#dc3068"/>
<text transform="translate(258.18 1266.9) scale(1 1.02)" font-size="22.4" class="b">6.7</text>
<text transform="translate(276.21 1289.4) scale(1 1.02)" font-size="22.4" class="b">5.8</text>
<text transform="translate(261.56 1317.5) scale(1 1.02)" font-size="22.4" class="b">5.3</text>
<text transform="translate(358.34 1201.25) scale(1 1.02)" font-size="22.4" class="b">19.5</text>
<text transform="translate(317.99 1222.5) scale(1 1.02)" font-size="22.4" class="b">19.2</text>
<text transform="translate(375.49 1268.75) scale(1 1.02)" font-size="22.4" class="b">17.3</text>
</g>
<g id="c-interior-ssp3">
<text transform="translate(445.31 1261.25) scale(1 1.02)" font-size="22.4" class="b">5.6</text>
<text transform="translate(462.76 1286.9) scale(1 1.02)" font-size="22.4" class="b">4.9</text>
<text transform="translate(469.66 1313.1) scale(1 1.02)" font-size="22.4" class="b">4.5</text>
<text transform="translate(540.47 1253.1) scale(1 1.02)" font-size="22.4" class="b">9.1</text>
<text transform="translate(575.47 1271.9) scale(1 1.02)" font-size="22.4" class="b">9.4</text>
<text transform="translate(568.04 1309) scale(1 1.02)" font-size="22.4" class="b">8.8</text>
<path d="M437.6 1295.4L561.9 1278.5" stroke="#44c45c" stroke-width="3.7" fill="none"/><circle cx="437.6" cy="1295.4" r="9.8" fill="#44c45c"/><circle cx="561.9" cy="1278.5" r="9.8" fill="#44c45c"/>
<path d="M437.6 1299.3L561.9 1275.75" stroke="#1e00ff" stroke-width="3.7" fill="none"/><circle cx="437.6" cy="1299.3" r="9.8" fill="#1e00ff"/><circle cx="561.9" cy="1275.75" r="9.8" fill="#1e00ff"/>
<path d="M437.6 1301.7L561.9 1280" stroke="#dc3068" stroke-width="3.7" fill="none"/><circle cx="437.6" cy="1301.7" r="9.8" fill="#dc3068"/><circle cx="561.9" cy="1280" r="9.8" fill="#dc3068"/>
</g>
<g id="c-interior-ssp4">
<path d="M631.2 1291.2L755 1246.4" stroke="#44c45c" stroke-width="3.7" fill="none"/><circle cx="631.2" cy="1291.2" r="9.8" fill="#44c45c"/><circle cx="755" cy="1246.4" r="9.8" fill="#44c45c"/>
<path d="M631.2 1295.8L755 1246.6" stroke="#1e00ff" stroke-width="3.7" fill="none"/><circle cx="631.2" cy="1295.8" r="9.8" fill="#1e00ff"/><circle cx="755" cy="1246.6" r="9.8" fill="#1e00ff"/>
<path d="M631.2 1298.1L755 1254.4" stroke="#dc3068" stroke-width="3.7" fill="none"/><circle cx="631.2" cy="1298.1" r="9.8" fill="#dc3068"/><circle cx="755" cy="1254.4" r="9.8" fill="#dc3068"/>
<text transform="translate(632.68 1273.1) scale(1 1.02)" font-size="22.4" class="b">6.56</text>
<text transform="translate(644.91 1301.5) scale(1 1.02)" font-size="22.4" class="b">5.61</text>
<text transform="translate(632.81 1323.5) scale(1 1.02)" font-size="22.4" class="b">5.17</text>
<text transform="translate(741.09 1226) scale(1 1.02)" font-size="22.4" class="b">15.21</text>
<text transform="translate(701.09 1248.75) scale(1 1.02)" font-size="22.4" class="b">15.18</text>
<text transform="translate(736.69 1285.6) scale(1 1.02)" font-size="22.4" class="b">13.68</text>
</g>
<g id="c-interior-ssp5">
<text transform="translate(838.69 1260.1) scale(1 1.02)" font-size="22.4" class="b">8.9</text>
<text transform="translate(832.14 1288.25) scale(1 1.02)" font-size="22.4" class="b">7.6</text>
<text transform="translate(830.04 1314.75) scale(1 1.02)" font-size="22.4" class="b">7.0</text>
<text transform="translate(862.41 1124.75) scale(1 1.02)" font-size="22.4" class="b">45.2</text>
<text transform="translate(932.41 1138.1) scale(1 1.02)" font-size="22.4" class="b">48.3</text>
<path d="M813.2 1278.8L936.9 1067" stroke="#44c45c" stroke-width="3.7" fill="none"/><circle cx="813.2" cy="1278.8" r="9.8" fill="#44c45c"/><circle cx="936.9" cy="1067" r="9.8" fill="#44c45c"/>
<path d="M813.2 1285.5L936.9 1074.5" stroke="#1e00ff" stroke-width="3.7" fill="none"/><circle cx="813.2" cy="1285.5" r="9.8" fill="#1e00ff"/><circle cx="936.9" cy="1074.5" r="9.8" fill="#1e00ff"/>
<path d="M813.2 1288.8L936.9 1090.6" stroke="#dc3068" stroke-width="3.7" fill="none"/><circle cx="813.2" cy="1288.8" r="9.8" fill="#dc3068"/><circle cx="936.9" cy="1090.6" r="9.8" fill="#dc3068"/>
<text transform="translate(940.91 1098.1) scale(1 1.02)" font-size="22.4" class="b">49.8</text>
<line x1="936.9" y1="1074.4" x2="955" y2="1102.5" stroke="#a0a0a0" stroke-width="1.6"/>
</g>
<line x1="951.00" y1="1246.00" x2="975.60" y2="1246.00" stroke="#44c45c" stroke-width="4.0"/>
<text transform="translate(986.67 1254.5) scale(1 1.0)" font-size="22.8" class="b" fill="#44c45c" style="stroke:#44c45c;stroke-width:.4px">60</text>
<line x1="951.00" y1="1274.25" x2="975.60" y2="1274.25" stroke="#1e00ff" stroke-width="4.0"/>
<text transform="translate(986.67 1282.25) scale(1 1.0)" font-size="22.8" class="b" fill="#1e00ff" style="stroke:#1e00ff;stroke-width:.4px">65</text>
<line x1="951.00" y1="1302.40" x2="975.60" y2="1302.40" stroke="#dc3068" stroke-width="4.0"/>
<text transform="translate(986.52 1310.1) scale(1 1.0)" font-size="22.8" class="b" fill="#dc3068" style="stroke:#dc3068;stroke-width:.4px">70</text>
</g>
<g class="h">
<text transform="translate(43.87 31.8) scale(1 1.08)" font-size="38.5" class="b" letter-spacing="1.5">a.</text>
<text transform="translate(88.13 31.2) scale(1 1.04)" font-size="28" class="b" letter-spacing="0.32">Pension standards for 2030 and 2060 (Ten thousand U.S. dollars)</text>
<text transform="translate(56.14 748) scale(1 1.02)" font-size="40" class="b" letter-spacing="1.0">c.</text>
<text transform="translate(101.03 747.6) scale(1 1.04)" font-size="28" class="b" letter-spacing="0.3">2030 and 2060 pension scale (trillion dollars)</text>
</g>
</svg>
</body></html>
